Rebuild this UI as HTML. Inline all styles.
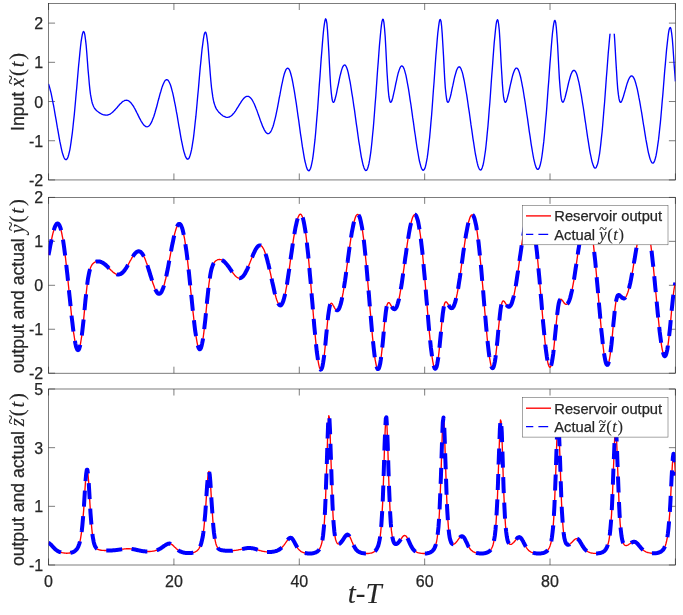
<!DOCTYPE html>
<html><head><meta charset="utf-8"><title>Reservoir observer</title>
<style>html,body{margin:0;padding:0;background:#fff}svg{display:block;will-change:transform}text{font-family:"Liberation Sans",Arial,Helvetica,sans-serif;fill:#262626;stroke:#262626;stroke-width:0.25px}.m,.r{stroke-width:0.1px}.m{font-family:"Liberation Serif","Times New Roman",serif;font-style:italic}.r{font-family:"Liberation Serif","Times New Roman",serif}</style></head><body>
<svg width="683" height="615" viewBox="0 0 683 615">
<rect width="683" height="615" fill="#fff"/>
<defs>
<clipPath id="c0"><rect x="48.55" y="3.50" width="626.85" height="176.45"/></clipPath>
<clipPath id="c1"><rect x="48.55" y="197.40" width="626.85" height="175.80"/></clipPath>
<clipPath id="c2"><rect x="48.55" y="389.00" width="626.85" height="176.00"/></clipPath>
</defs>
<g stroke="#262626" stroke-width="0.6" fill="none">
<rect x="48.55" y="3.50" width="626.85" height="176.45"/>
<path d="M48.55 179.95v-6.5M48.55 3.50v6.5M173.92 179.95v-6.5M173.92 3.50v6.5M299.29 179.95v-6.5M299.29 3.50v6.5M424.66 179.95v-6.5M424.66 3.50v6.5M550.03 179.95v-6.5M550.03 3.50v6.5M675.40 179.95v-6.5M675.40 3.50v6.5M48.55 179.95h6.5M675.40 179.95h-6.5M48.55 140.74h6.5M675.40 140.74h-6.5M48.55 101.53h6.5M675.40 101.53h-6.5M48.55 62.32h6.5M675.40 62.32h-6.5M48.55 23.11h6.5M675.40 23.11h-6.5"/>
</g>
<text x="43.2" y="185.9" font-size="16" text-anchor="end">-2</text>
<text x="43.2" y="146.7" font-size="16" text-anchor="end">-1</text>
<text x="43.2" y="107.5" font-size="16" text-anchor="end">0</text>
<text x="43.2" y="68.3" font-size="16" text-anchor="end">1</text>
<text x="43.2" y="29.1" font-size="16" text-anchor="end">2</text>
<g stroke="#262626" stroke-width="0.6" fill="none">
<rect x="48.55" y="197.40" width="626.85" height="175.80"/>
<path d="M48.55 373.20v-6.5M48.55 197.40v6.5M173.92 373.20v-6.5M173.92 197.40v6.5M299.29 373.20v-6.5M299.29 197.40v6.5M424.66 373.20v-6.5M424.66 197.40v6.5M550.03 373.20v-6.5M550.03 197.40v6.5M675.40 373.20v-6.5M675.40 197.40v6.5M48.55 373.20h6.5M675.40 373.20h-6.5M48.55 329.25h6.5M675.40 329.25h-6.5M48.55 285.30h6.5M675.40 285.30h-6.5M48.55 241.35h6.5M675.40 241.35h-6.5M48.55 197.40h6.5M675.40 197.40h-6.5"/>
</g>
<text x="43.2" y="379.2" font-size="16" text-anchor="end">-2</text>
<text x="43.2" y="335.2" font-size="16" text-anchor="end">-1</text>
<text x="43.2" y="291.3" font-size="16" text-anchor="end">0</text>
<text x="43.2" y="247.3" font-size="16" text-anchor="end">1</text>
<text x="43.2" y="203.4" font-size="16" text-anchor="end">2</text>
<g stroke="#262626" stroke-width="0.6" fill="none">
<rect x="48.55" y="389.00" width="626.85" height="176.00"/>
<path d="M48.55 565.00v-6.5M48.55 389.00v6.5M173.92 565.00v-6.5M173.92 389.00v6.5M299.29 565.00v-6.5M299.29 389.00v6.5M424.66 565.00v-6.5M424.66 389.00v6.5M550.03 565.00v-6.5M550.03 389.00v6.5M675.40 565.00v-6.5M675.40 389.00v6.5M48.55 565.00h6.5M675.40 565.00h-6.5M48.55 506.33h6.5M675.40 506.33h-6.5M48.55 447.67h6.5M675.40 447.67h-6.5M48.55 389.00h6.5M675.40 389.00h-6.5"/>
</g>
<text x="43.2" y="571.0" font-size="16" text-anchor="end">-1</text>
<text x="43.2" y="512.3" font-size="16" text-anchor="end">1</text>
<text x="43.2" y="453.7" font-size="16" text-anchor="end">3</text>
<text x="43.2" y="395.0" font-size="16" text-anchor="end">5</text>
<g clip-path="url(#c0)"><path d="M48.5 83.9 L49.2 85.9 L49.8 88.1 L50.4 90.5 L51.1 93.2 L51.7 96.1 L52.3 99.1 L52.9 102.3 L53.6 105.6 L54.2 109.0 L54.8 112.6 L55.4 116.2 L56.1 119.8 L56.7 123.5 L57.3 127.2 L58.0 130.8 L58.6 134.4 L59.2 137.9 L59.8 141.2 L60.5 144.4 L61.1 147.4 L61.7 150.1 L62.3 152.6 L63.0 154.7 L63.6 156.5 L64.2 158.0 L64.8 159.0 L65.5 159.6 L66.1 159.7 L66.7 159.3 L67.4 158.4 L68.0 157.0 L68.6 155.0 L69.2 152.6 L69.9 149.6 L70.5 146.0 L71.1 141.9 L71.7 137.4 L72.4 132.3 L73.0 126.8 L73.6 120.9 L74.3 114.6 L74.9 108.0 L75.5 101.2 L76.1 94.2 L76.8 87.0 L77.4 79.8 L78.0 72.7 L78.6 65.7 L79.3 59.0 L79.9 52.6 L80.5 46.8 L81.1 41.7 L81.8 37.4 L82.4 34.1 L83.0 32.1 L83.7 31.5 L84.3 32.5 L84.9 35.2 L85.5 39.7 L86.2 45.7 L86.8 53.0 L87.4 61.0 L88.0 69.1 L88.7 76.8 L89.3 83.7 L89.9 89.6 L90.5 94.4 L91.2 98.2 L91.8 101.2 L92.4 103.5 L93.1 105.3 L93.7 106.7 L94.3 107.8 L94.9 108.8 L95.6 109.5 L96.2 110.2 L96.8 110.8 L97.4 111.3 L98.1 111.8 L98.7 112.2 L99.3 112.7 L100.0 113.1 L100.6 113.4 L101.2 113.8 L101.8 114.1 L102.5 114.3 L103.1 114.6 L103.7 114.8 L104.3 114.9 L105.0 115.0 L105.6 115.1 L106.2 115.1 L106.8 115.1 L107.5 115.0 L108.1 114.8 L108.7 114.6 L109.4 114.4 L110.0 114.1 L110.6 113.7 L111.2 113.3 L111.9 112.8 L112.5 112.3 L113.1 111.7 L113.7 111.1 L114.4 110.5 L115.0 109.8 L115.6 109.1 L116.2 108.4 L116.9 107.7 L117.5 107.0 L118.1 106.2 L118.8 105.5 L119.4 104.8 L120.0 104.1 L120.6 103.5 L121.3 102.9 L121.9 102.3 L122.5 101.8 L123.1 101.3 L123.8 101.0 L124.4 100.7 L125.0 100.4 L125.7 100.3 L126.3 100.2 L126.9 100.3 L127.5 100.4 L128.2 100.7 L128.8 101.0 L129.4 101.4 L130.0 101.9 L130.7 102.6 L131.3 103.3 L131.9 104.1 L132.5 105.0 L133.2 105.9 L133.8 106.9 L134.4 108.0 L135.1 109.2 L135.7 110.4 L136.3 111.6 L136.9 112.8 L137.6 114.1 L138.2 115.4 L138.8 116.6 L139.4 117.9 L140.1 119.1 L140.7 120.3 L141.3 121.4 L142.0 122.4 L142.6 123.4 L143.2 124.2 L143.8 125.0 L144.5 125.6 L145.1 126.1 L145.7 126.5 L146.3 126.7 L147.0 126.8 L147.6 126.7 L148.2 126.4 L148.8 126.0 L149.5 125.4 L150.1 124.6 L150.7 123.6 L151.4 122.4 L152.0 121.1 L152.6 119.6 L153.2 118.0 L153.9 116.2 L154.5 114.2 L155.1 112.2 L155.7 110.0 L156.4 107.8 L157.0 105.5 L157.6 103.1 L158.2 100.7 L158.9 98.3 L159.5 96.0 L160.1 93.7 L160.8 91.5 L161.4 89.4 L162.0 87.4 L162.6 85.7 L163.3 84.0 L163.9 82.7 L164.5 81.5 L165.1 80.6 L165.8 80.0 L166.4 79.7 L167.0 79.7 L167.7 80.0 L168.3 80.6 L168.9 81.5 L169.5 82.7 L170.2 84.2 L170.8 86.0 L171.4 88.0 L172.0 90.3 L172.7 92.9 L173.3 95.6 L173.9 98.5 L174.5 101.6 L175.2 104.9 L175.8 108.2 L176.4 111.7 L177.1 115.2 L177.7 118.9 L178.3 122.5 L178.9 126.1 L179.6 129.7 L180.2 133.3 L180.8 136.8 L181.4 140.1 L182.1 143.3 L182.7 146.3 L183.3 149.1 L183.9 151.6 L184.6 153.8 L185.2 155.7 L185.8 157.2 L186.5 158.3 L187.1 159.0 L187.7 159.2 L188.3 158.9 L189.0 158.2 L189.6 156.9 L190.2 155.1 L190.8 152.8 L191.5 149.9 L192.1 146.6 L192.7 142.7 L193.4 138.3 L194.0 133.4 L194.6 128.0 L195.2 122.3 L195.9 116.2 L196.5 109.7 L197.1 103.0 L197.7 96.1 L198.4 89.0 L199.0 81.9 L199.6 74.8 L200.2 67.8 L200.9 61.1 L201.5 54.7 L202.1 48.8 L202.8 43.6 L203.4 39.1 L204.0 35.5 L204.6 33.1 L205.3 32.1 L205.9 32.6 L206.5 34.7 L207.1 38.6 L207.8 44.0 L208.4 50.8 L209.0 58.5 L209.7 66.5 L210.3 74.2 L210.9 81.3 L211.5 87.5 L212.2 92.7 L212.8 96.9 L213.4 100.2 L214.0 102.8 L214.7 104.9 L215.3 106.6 L215.9 107.9 L216.5 109.1 L217.2 110.0 L217.8 110.9 L218.4 111.7 L219.1 112.4 L219.7 113.0 L220.3 113.6 L220.9 114.2 L221.6 114.7 L222.2 115.2 L222.8 115.7 L223.4 116.1 L224.1 116.4 L224.7 116.7 L225.3 117.0 L225.9 117.2 L226.6 117.3 L227.2 117.3 L227.8 117.3 L228.5 117.2 L229.1 117.0 L229.7 116.8 L230.3 116.4 L231.0 116.0 L231.6 115.5 L232.2 115.0 L232.8 114.3 L233.5 113.6 L234.1 112.9 L234.7 112.0 L235.4 111.1 L236.0 110.2 L236.6 109.2 L237.2 108.2 L237.9 107.2 L238.5 106.2 L239.1 105.1 L239.7 104.1 L240.4 103.1 L241.0 102.1 L241.6 101.1 L242.2 100.3 L242.9 99.4 L243.5 98.7 L244.1 98.0 L244.8 97.4 L245.4 97.0 L246.0 96.6 L246.6 96.4 L247.3 96.3 L247.9 96.3 L248.5 96.4 L249.1 96.7 L249.8 97.2 L250.4 97.7 L251.0 98.4 L251.6 99.2 L252.3 100.2 L252.9 101.3 L253.5 102.5 L254.2 103.8 L254.8 105.2 L255.4 106.7 L256.0 108.3 L256.7 109.9 L257.3 111.6 L257.9 113.4 L258.5 115.1 L259.2 116.9 L259.8 118.7 L260.4 120.4 L261.1 122.2 L261.7 123.8 L262.3 125.4 L262.9 126.9 L263.6 128.3 L264.2 129.6 L264.8 130.7 L265.4 131.7 L266.1 132.5 L266.7 133.1 L267.3 133.5 L267.9 133.7 L268.6 133.6 L269.2 133.3 L269.8 132.8 L270.5 132.1 L271.1 131.0 L271.7 129.8 L272.3 128.2 L273.0 126.5 L273.6 124.5 L274.2 122.2 L274.8 119.8 L275.5 117.1 L276.1 114.3 L276.7 111.3 L277.4 108.1 L278.0 104.9 L278.6 101.6 L279.2 98.2 L279.9 94.9 L280.5 91.5 L281.1 88.3 L281.7 85.1 L282.4 82.1 L283.0 79.2 L283.6 76.7 L284.2 74.3 L284.9 72.3 L285.5 70.7 L286.1 69.4 L286.8 68.6 L287.4 68.2 L288.0 68.2 L288.6 68.7 L289.3 69.6 L289.9 71.0 L290.5 72.8 L291.1 75.0 L291.8 77.6 L292.4 80.5 L293.0 83.7 L293.6 87.2 L294.3 90.8 L294.9 94.7 L295.5 98.7 L296.2 102.9 L296.8 107.1 L297.4 111.5 L298.0 115.9 L298.7 120.4 L299.3 124.9 L299.9 129.4 L300.5 133.8 L301.2 138.2 L301.8 142.5 L302.4 146.7 L303.1 150.6 L303.7 154.4 L304.3 157.8 L304.9 161.0 L305.6 163.7 L306.2 166.1 L306.8 168.1 L307.4 169.5 L308.1 170.4 L308.7 170.8 L309.3 170.6 L309.9 169.7 L310.6 168.3 L311.2 166.1 L311.8 163.4 L312.5 159.9 L313.1 155.8 L313.7 151.1 L314.3 145.7 L315.0 139.7 L315.6 133.2 L316.2 126.1 L316.8 118.6 L317.5 110.6 L318.1 102.3 L318.7 93.7 L319.3 84.9 L320.0 76.1 L320.6 67.3 L321.2 58.6 L321.9 50.3 L322.5 42.4 L323.1 35.2 L323.7 29.0 L324.4 23.9 L325.0 20.4 L325.6 18.8 L326.2 19.7 L326.9 23.4 L327.5 30.1 L328.1 39.6 L328.8 51.2 L329.4 63.5 L330.0 75.2 L330.6 85.2 L331.3 92.8 L331.9 98.0 L332.5 101.0 L333.1 102.3 L333.8 102.3 L334.4 101.2 L335.0 99.3 L335.6 97.0 L336.3 94.3 L336.9 91.3 L337.5 88.2 L338.2 85.1 L338.8 82.0 L339.4 79.0 L340.0 76.1 L340.7 73.5 L341.3 71.1 L341.9 69.1 L342.5 67.4 L343.2 66.2 L343.8 65.3 L344.4 65.0 L345.1 65.1 L345.7 65.7 L346.3 66.8 L346.9 68.3 L347.6 70.3 L348.2 72.7 L348.8 75.5 L349.4 78.6 L350.1 81.9 L350.7 85.5 L351.3 89.3 L351.9 93.3 L352.6 97.4 L353.2 101.5 L353.8 105.8 L354.5 110.2 L355.1 114.6 L355.7 119.1 L356.3 123.6 L357.0 128.1 L357.6 132.6 L358.2 137.0 L358.8 141.3 L359.5 145.4 L360.1 149.4 L360.7 153.2 L361.3 156.8 L362.0 160.0 L362.6 162.8 L363.2 165.3 L363.9 167.4 L364.5 168.9 L365.1 170.0 L365.7 170.5 L366.4 170.4 L367.0 169.8 L367.6 168.5 L368.2 166.5 L368.9 163.9 L369.5 160.7 L370.1 156.8 L370.8 152.2 L371.4 147.0 L372.0 141.2 L372.6 134.8 L373.3 127.9 L373.9 120.5 L374.5 112.7 L375.1 104.5 L375.8 96.0 L376.4 87.3 L377.0 78.5 L377.6 69.7 L378.3 61.1 L378.9 52.7 L379.5 44.7 L380.2 37.3 L380.8 30.8 L381.4 25.4 L382.0 21.4 L382.7 19.3 L383.3 19.5 L383.9 22.3 L384.5 28.1 L385.2 36.7 L385.8 47.7 L386.4 59.8 L387.0 71.8 L387.7 82.3 L388.3 90.6 L388.9 96.5 L389.6 100.2 L390.2 102.0 L390.8 102.4 L391.4 101.6 L392.1 100.1 L392.7 98.0 L393.3 95.4 L393.9 92.6 L394.6 89.6 L395.2 86.6 L395.8 83.5 L396.5 80.6 L397.1 77.7 L397.7 75.1 L398.3 72.7 L399.0 70.6 L399.6 68.9 L400.2 67.5 L400.8 66.5 L401.5 66.0 L402.1 65.9 L402.7 66.4 L403.3 67.2 L404.0 68.6 L404.6 70.4 L405.2 72.6 L405.9 75.1 L406.5 78.1 L407.1 81.3 L407.7 84.7 L408.4 88.4 L409.0 92.2 L409.6 96.2 L410.2 100.3 L410.9 104.5 L411.5 108.8 L412.1 113.2 L412.7 117.7 L413.4 122.1 L414.0 126.6 L414.6 131.1 L415.3 135.5 L415.9 139.8 L416.5 144.0 L417.1 148.0 L417.8 151.9 L418.4 155.5 L419.0 158.8 L419.6 161.8 L420.3 164.4 L420.9 166.6 L421.5 168.3 L422.2 169.5 L422.8 170.2 L423.4 170.3 L424.0 169.8 L424.7 168.7 L425.3 167.0 L425.9 164.6 L426.5 161.6 L427.2 157.9 L427.8 153.6 L428.4 148.6 L429.0 143.0 L429.7 136.8 L430.3 130.1 L430.9 122.9 L431.6 115.2 L432.2 107.2 L432.8 98.8 L433.4 90.2 L434.1 81.5 L434.7 72.7 L435.3 64.0 L435.9 55.5 L436.6 47.4 L437.2 39.9 L437.8 33.1 L438.5 27.3 L439.1 22.8 L439.7 20.0 L440.3 19.4 L441.0 21.2 L441.6 26.0 L442.2 33.6 L442.8 43.8 L443.5 55.6 L444.1 67.6 L444.7 78.7 L445.3 87.8 L446.0 94.5 L446.6 99.0 L447.2 101.5 L447.9 102.4 L448.5 102.0 L449.1 100.8 L449.7 98.9 L450.4 96.6 L451.0 94.0 L451.6 91.1 L452.2 88.2 L452.9 85.2 L453.5 82.3 L454.1 79.4 L454.7 76.8 L455.4 74.4 L456.0 72.2 L456.6 70.3 L457.3 68.8 L457.9 67.7 L458.5 67.1 L459.1 66.8 L459.8 67.0 L460.4 67.7 L461.0 68.8 L461.6 70.4 L462.3 72.4 L462.9 74.7 L463.5 77.5 L464.2 80.5 L464.8 83.8 L465.4 87.3 L466.0 91.0 L466.7 94.9 L467.3 98.9 L467.9 103.0 L468.5 107.3 L469.2 111.6 L469.8 116.0 L470.4 120.4 L471.0 124.9 L471.7 129.3 L472.3 133.7 L472.9 138.1 L473.6 142.3 L474.2 146.4 L474.8 150.3 L475.4 154.0 L476.1 157.4 L476.7 160.5 L477.3 163.2 L477.9 165.5 L478.6 167.4 L479.2 168.8 L479.8 169.7 L480.4 170.0 L481.1 169.8 L481.7 168.9 L482.3 167.4 L483.0 165.3 L483.6 162.5 L484.2 159.1 L484.8 155.0 L485.5 150.3 L486.1 145.0 L486.7 139.1 L487.3 132.6 L488.0 125.6 L488.6 118.1 L489.2 110.2 L489.9 102.0 L490.5 93.5 L491.1 84.8 L491.7 76.1 L492.4 67.4 L493.0 58.9 L493.6 50.7 L494.2 42.9 L494.9 35.9 L495.5 29.7 L496.1 24.7 L496.7 21.2 L497.4 19.7 L498.0 20.5 L498.6 24.0 L499.3 30.4 L499.9 39.5 L500.5 50.7 L501.1 62.7 L501.8 74.2 L502.4 84.1 L503.0 91.8 L503.6 97.2 L504.3 100.5 L504.9 102.1 L505.5 102.3 L506.2 101.5 L506.8 100.0 L507.4 97.9 L508.0 95.5 L508.7 92.8 L509.3 90.0 L509.9 87.1 L510.5 84.3 L511.2 81.5 L511.8 78.9 L512.4 76.4 L513.0 74.2 L513.7 72.3 L514.3 70.7 L514.9 69.4 L515.6 68.6 L516.2 68.1 L516.8 68.1 L517.4 68.5 L518.1 69.4 L518.7 70.7 L519.3 72.4 L519.9 74.5 L520.6 77.0 L521.2 79.8 L521.8 82.9 L522.4 86.2 L523.1 89.7 L523.7 93.5 L524.3 97.3 L525.0 101.4 L525.6 105.5 L526.2 109.7 L526.8 114.0 L527.5 118.4 L528.1 122.8 L528.7 127.2 L529.3 131.6 L530.0 135.9 L530.6 140.2 L531.2 144.3 L531.9 148.3 L532.5 152.0 L533.1 155.5 L533.7 158.7 L534.4 161.6 L535.0 164.1 L535.6 166.1 L536.2 167.7 L536.9 168.8 L537.5 169.4 L538.1 169.4 L538.7 168.8 L539.4 167.6 L540.0 165.8 L540.6 163.3 L541.3 160.2 L541.9 156.5 L542.5 152.1 L543.1 147.1 L543.8 141.4 L544.4 135.2 L545.0 128.5 L545.6 121.3 L546.3 113.7 L546.9 105.7 L547.5 97.4 L548.1 88.9 L548.8 80.2 L549.4 71.6 L550.0 63.1 L550.7 54.8 L551.3 46.9 L551.9 39.5 L552.5 33.0 L553.2 27.4 L553.8 23.3 L554.4 20.8 L555.0 20.4 L555.7 22.5 L556.3 27.3 L556.9 35.0 L557.6 45.0 L558.2 56.5 L558.8 68.2 L559.4 78.9 L560.1 87.7 L560.7 94.3 L561.3 98.7 L561.9 101.2 L562.6 102.2 L563.2 102.1 L563.8 101.1 L564.4 99.5 L565.1 97.4 L565.7 95.0 L566.3 92.5 L567.0 89.8 L567.6 87.1 L568.2 84.5 L568.8 81.9 L569.5 79.5 L570.1 77.3 L570.7 75.3 L571.3 73.6 L572.0 72.2 L572.6 71.2 L573.2 70.6 L573.9 70.3 L574.5 70.4 L575.1 71.0 L575.7 71.9 L576.4 73.3 L577.0 75.0 L577.6 77.1 L578.2 79.6 L578.9 82.3 L579.5 85.3 L580.1 88.6 L580.7 92.0 L581.4 95.7 L582.0 99.5 L582.6 103.4 L583.3 107.5 L583.9 111.6 L584.5 115.9 L585.1 120.1 L585.8 124.5 L586.4 128.8 L587.0 133.0 L587.6 137.2 L588.3 141.3 L588.9 145.3 L589.5 149.1 L590.1 152.6 L590.8 155.9 L591.4 158.9 L592.0 161.6 L592.7 163.8 L593.3 165.6 L593.9 167.0 L594.5 167.8 L595.2 168.1 L595.8 167.9 L596.4 167.1 L597.0 165.6 L597.7 163.6 L598.3 160.9 L598.9 157.5 L599.6 153.6 L600.2 149.0 L600.8 143.8 L601.4 138.1 L602.1 131.8 L602.7 125.0 L603.3 117.8 L603.9 110.1 L604.6 102.2 L605.2 94.0 L605.8 85.6 L606.4 77.2 L607.1 68.7 L607.7 60.5 L608.3 52.5 L609.0 45.0 L609.6 38.1 L610.2 32.1 L610.8 27.1 L611.5 23.6 L612.1 21.8 L612.7 22.2 L613.3 25.0 L614.0 30.5 L614.6 38.5 L615.2 48.5 L615.8 59.6 L616.5 70.6 L617.1 80.5 L617.7 88.6 L618.4 94.7 L619.0 98.7 L619.6 101.1 L620.2 102.2 L620.9 102.2 L621.5 101.5 L622.1 100.2 L622.7 98.5 L623.4 96.5 L624.0 94.4 L624.6 92.2 L625.3 89.9 L625.9 87.7 L626.5 85.6 L627.1 83.6 L627.8 81.7 L628.4 80.1 L629.0 78.7 L629.6 77.6 L630.3 76.7 L630.9 76.1 L631.5 75.9 L632.1 76.0 L632.8 76.5 L633.4 77.3 L634.0 78.4 L634.7 79.9 L635.3 81.7 L635.9 83.8 L636.5 86.1 L637.2 88.7 L637.8 91.6 L638.4 94.6 L639.0 97.9 L639.7 101.3 L640.3 104.9 L640.9 108.5 L641.6 112.3 L642.2 116.2 L642.8 120.1 L643.4 124.0 L644.1 127.9 L644.7 131.8 L645.3 135.6 L645.9 139.4 L646.6 143.0 L647.2 146.4 L647.8 149.6 L648.4 152.6 L649.1 155.2 L649.7 157.6 L650.3 159.5 L651.0 161.1 L651.6 162.3 L652.2 162.9 L652.8 163.1 L653.5 162.8 L654.1 161.9 L654.7 160.5 L655.3 158.5 L656.0 155.9 L656.6 152.7 L657.2 149.0 L657.8 144.7 L658.5 139.9 L659.1 134.5 L659.7 128.7 L660.4 122.4 L661.0 115.8 L661.6 108.7 L662.2 101.4 L662.9 93.9 L663.5 86.3 L664.1 78.6 L664.7 70.9 L665.4 63.4 L666.0 56.2 L666.6 49.4 L667.3 43.1 L667.9 37.7 L668.5 33.1 L669.1 29.7 L669.8 27.8 L670.4 27.5 L671.0 29.1 L671.6 32.9 L672.3 38.6 L672.9 46.2 L673.5 55.0 L674.1 64.3 L674.8 73.3 L675.4 81.4" fill="none" stroke="#0000ff" stroke-width="1.35" stroke-linejoin="round"/></g>
<rect x="607.5" y="4.3" width="9.5" height="29.4" fill="#fff"/>
<g clip-path="url(#c1)"><path d="M48.5 255.1 L49.2 251.7 L49.8 248.3 L50.4 245.0 L51.1 241.8 L51.7 238.8 L52.3 236.0 L52.9 233.4 L53.6 231.0 L54.2 228.9 L54.8 227.1 L55.4 225.7 L56.1 224.6 L56.7 223.8 L57.3 223.5 L58.0 223.5 L58.6 224.0 L59.2 224.9 L59.8 226.2 L60.5 228.0 L61.1 230.3 L61.7 233.0 L62.3 236.1 L63.0 239.7 L63.6 243.7 L64.2 248.0 L64.8 252.8 L65.5 257.8 L66.1 263.2 L66.7 268.8 L67.4 274.7 L68.0 280.7 L68.6 286.8 L69.2 293.0 L69.9 299.2 L70.5 305.3 L71.1 311.3 L71.7 317.1 L72.4 322.7 L73.0 327.9 L73.6 332.7 L74.3 337.0 L74.9 340.9 L75.5 344.1 L76.1 346.7 L76.8 348.6 L77.4 349.8 L78.0 350.2 L78.6 349.8 L79.3 348.5 L79.9 346.5 L80.5 343.6 L81.1 340.0 L81.8 335.6 L82.4 330.6 L83.0 325.0 L83.7 318.9 L84.3 312.6 L84.9 306.1 L85.5 299.7 L86.2 293.6 L86.8 288.0 L87.4 283.0 L88.0 278.6 L88.7 275.0 L89.3 272.0 L89.9 269.7 L90.5 267.8 L91.2 266.3 L91.8 265.1 L92.4 264.2 L93.1 263.5 L93.7 263.0 L94.3 262.5 L94.9 262.2 L95.6 261.9 L96.2 261.7 L96.8 261.5 L97.4 261.5 L98.1 261.4 L98.7 261.4 L99.3 261.5 L100.0 261.6 L100.6 261.8 L101.2 262.0 L101.8 262.3 L102.5 262.6 L103.1 263.0 L103.7 263.4 L104.3 263.9 L105.0 264.4 L105.6 264.9 L106.2 265.4 L106.8 266.0 L107.5 266.6 L108.1 267.3 L108.7 267.9 L109.4 268.5 L110.0 269.2 L110.6 269.8 L111.2 270.4 L111.9 271.0 L112.5 271.6 L113.1 272.2 L113.7 272.7 L114.4 273.1 L115.0 273.5 L115.6 273.9 L116.2 274.1 L116.9 274.4 L117.5 274.5 L118.1 274.6 L118.8 274.5 L119.4 274.4 L120.0 274.2 L120.6 274.0 L121.3 273.6 L121.9 273.1 L122.5 272.6 L123.1 272.0 L123.8 271.3 L124.4 270.5 L125.0 269.7 L125.7 268.7 L126.3 267.8 L126.9 266.8 L127.5 265.7 L128.2 264.6 L128.8 263.5 L129.4 262.4 L130.0 261.2 L130.7 260.1 L131.3 259.0 L131.9 257.9 L132.5 256.9 L133.2 255.9 L133.8 255.0 L134.4 254.2 L135.1 253.4 L135.7 252.8 L136.3 252.2 L136.9 251.8 L137.6 251.5 L138.2 251.3 L138.8 251.3 L139.4 251.4 L140.1 251.6 L140.7 252.0 L141.3 252.6 L142.0 253.3 L142.6 254.2 L143.2 255.2 L143.8 256.4 L144.5 257.7 L145.1 259.1 L145.7 260.7 L146.3 262.4 L147.0 264.1 L147.6 266.0 L148.2 268.0 L148.8 270.0 L149.5 272.0 L150.1 274.1 L150.7 276.2 L151.4 278.2 L152.0 280.2 L152.6 282.2 L153.2 284.1 L153.9 285.8 L154.5 287.5 L155.1 289.0 L155.7 290.3 L156.4 291.4 L157.0 292.4 L157.6 293.1 L158.2 293.6 L158.9 293.8 L159.5 293.7 L160.1 293.4 L160.8 292.8 L161.4 292.0 L162.0 290.8 L162.6 289.4 L163.3 287.7 L163.9 285.7 L164.5 283.5 L165.1 281.0 L165.8 278.4 L166.4 275.5 L167.0 272.5 L167.7 269.3 L168.3 266.1 L168.9 262.7 L169.5 259.3 L170.2 255.9 L170.8 252.5 L171.4 249.2 L172.0 245.9 L172.7 242.8 L173.3 239.8 L173.9 236.9 L174.5 234.3 L175.2 231.9 L175.8 229.8 L176.4 227.9 L177.1 226.4 L177.7 225.2 L178.3 224.4 L178.9 223.9 L179.6 223.9 L180.2 224.2 L180.8 225.0 L181.4 226.2 L182.1 227.9 L182.7 230.0 L183.3 232.6 L183.9 235.6 L184.6 239.0 L185.2 242.9 L185.8 247.1 L186.5 251.7 L187.1 256.6 L187.7 261.9 L188.3 267.4 L189.0 273.1 L189.6 279.1 L190.2 285.1 L190.8 291.2 L191.5 297.3 L192.1 303.4 L192.7 309.4 L193.4 315.2 L194.0 320.7 L194.6 326.0 L195.2 330.9 L195.9 335.3 L196.5 339.2 L197.1 342.6 L197.7 345.3 L198.4 347.4 L199.0 348.7 L199.6 349.3 L200.2 349.1 L200.9 348.1 L201.5 346.2 L202.1 343.6 L202.8 340.2 L203.4 336.0 L204.0 331.2 L204.6 325.7 L205.3 319.8 L205.9 313.6 L206.5 307.1 L207.1 300.7 L207.8 294.5 L208.4 288.7 L209.0 283.5 L209.7 278.9 L210.3 274.9 L210.9 271.7 L211.5 269.0 L212.2 266.9 L212.8 265.2 L213.4 263.8 L214.0 262.8 L214.7 261.9 L215.3 261.2 L215.9 260.7 L216.5 260.3 L217.2 260.0 L217.8 259.7 L218.4 259.6 L219.1 259.5 L219.7 259.5 L220.3 259.6 L220.9 259.7 L221.6 259.9 L222.2 260.2 L222.8 260.6 L223.4 261.0 L224.1 261.5 L224.7 262.1 L225.3 262.7 L225.9 263.4 L226.6 264.1 L227.2 264.9 L227.8 265.7 L228.5 266.6 L229.1 267.4 L229.7 268.3 L230.3 269.2 L231.0 270.2 L231.6 271.1 L232.2 272.0 L232.8 272.8 L233.5 273.7 L234.1 274.4 L234.7 275.2 L235.4 275.9 L236.0 276.5 L236.6 277.0 L237.2 277.4 L237.9 277.8 L238.5 278.0 L239.1 278.1 L239.7 278.2 L240.4 278.1 L241.0 277.8 L241.6 277.5 L242.2 277.0 L242.9 276.4 L243.5 275.7 L244.1 274.9 L244.8 273.9 L245.4 272.9 L246.0 271.7 L246.6 270.5 L247.3 269.1 L247.9 267.7 L248.5 266.2 L249.1 264.7 L249.8 263.1 L250.4 261.5 L251.0 259.9 L251.6 258.4 L252.3 256.8 L252.9 255.3 L253.5 253.8 L254.2 252.4 L254.8 251.1 L255.4 249.9 L256.0 248.8 L256.7 247.8 L257.3 247.0 L257.9 246.3 L258.5 245.8 L259.2 245.5 L259.8 245.4 L260.4 245.4 L261.1 245.7 L261.7 246.2 L262.3 246.9 L262.9 247.8 L263.6 249.0 L264.2 250.3 L264.8 251.9 L265.4 253.7 L266.1 255.6 L266.7 257.7 L267.3 260.0 L267.9 262.5 L268.6 265.1 L269.2 267.8 L269.8 270.6 L270.5 273.5 L271.1 276.4 L271.7 279.3 L272.3 282.2 L273.0 285.1 L273.6 287.9 L274.2 290.6 L274.8 293.2 L275.5 295.6 L276.1 297.8 L276.7 299.7 L277.4 301.5 L278.0 302.9 L278.6 304.0 L279.2 304.8 L279.9 305.3 L280.5 305.4 L281.1 305.1 L281.7 304.4 L282.4 303.3 L283.0 301.8 L283.6 300.0 L284.2 297.7 L284.9 295.1 L285.5 292.1 L286.1 288.8 L286.8 285.3 L287.4 281.4 L288.0 277.4 L288.6 273.2 L289.3 268.8 L289.9 264.3 L290.5 259.8 L291.1 255.4 L291.8 250.9 L292.4 246.6 L293.0 242.3 L293.6 238.3 L294.3 234.4 L294.9 230.8 L295.5 227.5 L296.2 224.5 L296.8 221.8 L297.4 219.5 L298.0 217.5 L298.7 216.0 L299.3 214.9 L299.9 214.3 L300.5 214.2 L301.2 214.6 L301.8 215.5 L302.4 216.9 L303.1 218.9 L303.7 221.5 L304.3 224.6 L304.9 228.2 L305.6 232.4 L306.2 237.1 L306.8 242.2 L307.4 247.9 L308.1 253.9 L308.7 260.4 L309.3 267.2 L309.9 274.3 L310.6 281.6 L311.2 289.0 L311.8 296.6 L312.5 304.2 L313.1 311.8 L313.7 319.2 L314.3 326.4 L315.0 333.4 L315.6 339.9 L316.2 346.0 L316.8 351.6 L317.5 356.5 L318.1 360.8 L318.7 364.3 L319.3 366.9 L320.0 368.7 L320.6 369.6 L321.2 369.4 L321.9 368.3 L322.5 366.2 L323.1 363.0 L323.7 359.0 L324.4 354.0 L325.0 348.4 L325.6 342.1 L326.2 335.4 L326.9 328.7 L327.5 322.2 L328.1 316.4 L328.8 311.5 L329.4 307.7 L330.0 305.1 L330.6 303.7 L331.3 303.2 L331.9 303.5 L332.5 304.2 L333.1 305.3 L333.8 306.4 L334.4 307.6 L335.0 308.6 L335.6 309.4 L336.3 310.0 L336.9 310.3 L337.5 310.2 L338.2 309.8 L338.8 309.0 L339.4 307.8 L340.0 306.2 L340.7 304.2 L341.3 301.8 L341.9 299.0 L342.5 295.8 L343.2 292.4 L343.8 288.6 L344.4 284.6 L345.1 280.3 L345.7 275.9 L346.3 271.3 L346.9 266.6 L347.6 262.0 L348.2 257.3 L348.8 252.7 L349.4 248.2 L350.1 243.9 L350.7 239.7 L351.3 235.7 L351.9 232.0 L352.6 228.6 L353.2 225.5 L353.8 222.7 L354.5 220.2 L355.1 218.2 L355.7 216.6 L356.3 215.4 L357.0 214.6 L357.6 214.4 L358.2 214.6 L358.8 215.4 L359.5 216.7 L360.1 218.5 L360.7 220.9 L361.3 223.9 L362.0 227.3 L362.6 231.4 L363.2 235.9 L363.9 240.9 L364.5 246.4 L365.1 252.4 L365.7 258.7 L366.4 265.4 L367.0 272.3 L367.6 279.6 L368.2 287.0 L368.9 294.5 L369.5 302.1 L370.1 309.6 L370.8 317.1 L371.4 324.3 L372.0 331.3 L372.6 337.9 L373.3 344.1 L373.9 349.8 L374.5 354.9 L375.1 359.4 L375.8 363.0 L376.4 365.9 L377.0 367.9 L377.6 369.0 L378.3 369.1 L378.9 368.3 L379.5 366.4 L380.2 363.6 L380.8 359.7 L381.4 355.0 L382.0 349.6 L382.7 343.4 L383.3 336.9 L383.9 330.1 L384.5 323.6 L385.2 317.5 L385.8 312.3 L386.4 308.1 L387.0 305.1 L387.7 303.4 L388.3 302.6 L388.9 302.6 L389.6 303.1 L390.2 304.0 L390.8 305.1 L391.4 306.2 L392.1 307.3 L392.7 308.1 L393.3 308.8 L393.9 309.1 L394.6 309.2 L395.2 308.9 L395.8 308.2 L396.5 307.1 L397.1 305.7 L397.7 303.8 L398.3 301.6 L399.0 299.0 L399.6 296.0 L400.2 292.7 L400.8 289.1 L401.5 285.2 L402.1 281.1 L402.7 276.8 L403.3 272.3 L404.0 267.8 L404.6 263.2 L405.2 258.6 L405.9 254.0 L406.5 249.6 L407.1 245.2 L407.7 241.0 L408.4 237.0 L409.0 233.3 L409.6 229.8 L410.2 226.6 L410.9 223.7 L411.5 221.1 L412.1 219.0 L412.7 217.2 L413.4 215.9 L414.0 215.0 L414.6 214.6 L415.3 214.7 L415.9 215.3 L416.5 216.4 L417.1 218.1 L417.8 220.3 L418.4 223.0 L419.0 226.3 L419.6 230.2 L420.3 234.5 L420.9 239.4 L421.5 244.7 L422.2 250.5 L422.8 256.7 L423.4 263.2 L424.0 270.1 L424.7 277.2 L425.3 284.5 L425.9 292.0 L426.5 299.5 L427.2 307.1 L427.8 314.5 L428.4 321.8 L429.0 328.9 L429.7 335.6 L430.3 341.9 L430.9 347.8 L431.6 353.0 L432.2 357.7 L432.8 361.6 L433.4 364.7 L434.1 367.0 L434.7 368.4 L435.3 368.8 L435.9 368.3 L436.6 366.7 L437.2 364.2 L437.8 360.7 L438.5 356.3 L439.1 351.1 L439.7 345.1 L440.3 338.7 L441.0 332.0 L441.6 325.3 L442.2 319.0 L442.8 313.5 L443.5 308.9 L444.1 305.5 L444.7 303.3 L445.3 302.1 L446.0 301.8 L446.6 302.1 L447.2 302.9 L447.9 303.9 L448.5 304.9 L449.1 306.0 L449.7 306.9 L450.4 307.6 L451.0 308.0 L451.6 308.2 L452.2 308.0 L452.9 307.5 L453.5 306.6 L454.1 305.3 L454.7 303.6 L455.4 301.5 L456.0 299.1 L456.6 296.3 L457.3 293.2 L457.9 289.8 L458.5 286.1 L459.1 282.1 L459.8 277.9 L460.4 273.6 L461.0 269.2 L461.6 264.7 L462.3 260.1 L462.9 255.6 L463.5 251.1 L464.2 246.8 L464.8 242.6 L465.4 238.6 L466.0 234.7 L466.7 231.2 L467.3 227.9 L467.9 224.9 L468.5 222.2 L469.2 220.0 L469.8 218.0 L470.4 216.6 L471.0 215.5 L471.7 214.9 L472.3 214.8 L472.9 215.2 L473.6 216.2 L474.2 217.6 L474.8 219.6 L475.4 222.2 L476.1 225.2 L476.7 228.8 L477.3 233.0 L477.9 237.6 L478.6 242.8 L479.2 248.4 L479.8 254.4 L480.4 260.7 L481.1 267.5 L481.7 274.5 L482.3 281.7 L483.0 289.1 L483.6 296.6 L484.2 304.1 L484.8 311.5 L485.5 318.8 L486.1 326.0 L486.7 332.8 L487.3 339.2 L488.0 345.2 L488.6 350.7 L489.2 355.6 L489.9 359.7 L490.5 363.1 L491.1 365.7 L491.7 367.4 L492.4 368.2 L493.0 368.0 L493.6 366.9 L494.2 364.7 L494.9 361.6 L495.5 357.5 L496.1 352.6 L496.7 347.0 L497.4 340.7 L498.0 334.1 L498.6 327.4 L499.3 320.9 L499.9 315.0 L500.5 309.9 L501.1 306.0 L501.8 303.3 L502.4 301.6 L503.0 300.9 L503.6 300.9 L504.3 301.5 L504.9 302.3 L505.5 303.3 L506.2 304.3 L506.8 305.2 L507.4 306.0 L508.0 306.5 L508.7 306.8 L509.3 306.7 L509.9 306.4 L510.5 305.6 L511.2 304.5 L511.8 303.1 L512.4 301.2 L513.0 299.0 L513.7 296.5 L514.3 293.6 L514.9 290.4 L515.6 286.9 L516.2 283.1 L516.8 279.1 L517.4 275.0 L518.1 270.7 L518.7 266.3 L519.3 261.9 L519.9 257.4 L520.6 253.0 L521.2 248.7 L521.8 244.5 L522.4 240.4 L523.1 236.6 L523.7 233.0 L524.3 229.6 L525.0 226.5 L525.6 223.7 L526.2 221.3 L526.8 219.2 L527.5 217.6 L528.1 216.4 L528.7 215.6 L529.3 215.3 L530.0 215.4 L530.6 216.1 L531.2 217.3 L531.9 219.1 L532.5 221.4 L533.1 224.2 L533.7 227.5 L534.4 231.4 L535.0 235.8 L535.6 240.7 L536.2 246.0 L536.9 251.8 L537.5 258.0 L538.1 264.5 L538.7 271.3 L539.4 278.4 L540.0 285.6 L540.6 293.0 L541.3 300.4 L541.9 307.9 L542.5 315.2 L543.1 322.3 L543.8 329.2 L544.4 335.8 L545.0 341.9 L545.6 347.6 L546.3 352.7 L546.9 357.1 L547.5 360.8 L548.1 363.8 L548.8 365.9 L549.4 367.0 L550.0 367.3 L550.7 366.6 L551.3 364.9 L551.9 362.2 L552.5 358.6 L553.2 354.0 L553.8 348.7 L554.4 342.8 L555.0 336.3 L555.7 329.6 L556.3 323.0 L556.9 316.7 L557.6 311.2 L558.2 306.6 L558.8 303.2 L559.4 300.9 L560.1 299.6 L560.7 299.2 L561.3 299.3 L561.9 299.9 L562.6 300.7 L563.2 301.6 L563.8 302.5 L564.4 303.3 L565.1 303.9 L565.7 304.3 L566.3 304.4 L567.0 304.2 L567.6 303.6 L568.2 302.8 L568.8 301.6 L569.5 300.0 L570.1 298.1 L570.7 295.9 L571.3 293.3 L572.0 290.4 L572.6 287.2 L573.2 283.8 L573.9 280.1 L574.5 276.3 L575.1 272.2 L575.7 268.1 L576.4 263.9 L577.0 259.6 L577.6 255.4 L578.2 251.1 L578.9 247.0 L579.5 243.0 L580.1 239.2 L580.7 235.5 L581.4 232.1 L582.0 229.0 L582.6 226.1 L583.3 223.5 L583.9 221.3 L584.5 219.5 L585.1 218.1 L585.8 217.0 L586.4 216.5 L587.0 216.4 L587.6 216.8 L588.3 217.7 L588.9 219.1 L589.5 221.0 L590.1 223.5 L590.8 226.5 L591.4 230.0 L592.0 234.0 L592.7 238.5 L593.3 243.5 L593.9 248.9 L594.5 254.7 L595.2 260.9 L595.8 267.4 L596.4 274.2 L597.0 281.2 L597.7 288.4 L598.3 295.6 L598.9 302.9 L599.6 310.1 L600.2 317.2 L600.8 324.1 L601.4 330.7 L602.1 336.9 L602.7 342.7 L603.3 348.0 L603.9 352.7 L604.6 356.7 L605.2 360.0 L605.8 362.5 L606.4 364.2 L607.1 364.9 L607.7 364.8 L608.3 363.6 L609.0 361.5 L609.6 358.5 L610.2 354.6 L610.8 349.8 L611.5 344.2 L612.1 338.1 L612.7 331.6 L613.3 324.9 L614.0 318.3 L614.6 312.2 L615.2 306.9 L615.8 302.5 L616.5 299.2 L617.1 296.9 L617.7 295.6 L618.4 295.0 L619.0 295.0 L619.6 295.3 L620.2 295.9 L620.9 296.5 L621.5 297.2 L622.1 297.8 L622.7 298.2 L623.4 298.4 L624.0 298.4 L624.6 298.1 L625.3 297.6 L625.9 296.8 L626.5 295.7 L627.1 294.2 L627.8 292.5 L628.4 290.5 L629.0 288.3 L629.6 285.7 L630.3 282.9 L630.9 279.9 L631.5 276.7 L632.1 273.3 L632.8 269.8 L633.4 266.1 L634.0 262.4 L634.7 258.7 L635.3 254.9 L635.9 251.2 L636.5 247.6 L637.2 244.0 L637.8 240.6 L638.4 237.4 L639.0 234.3 L639.7 231.5 L640.3 228.9 L640.9 226.7 L641.6 224.7 L642.2 223.1 L642.8 221.9 L643.4 221.0 L644.1 220.6 L644.7 220.6 L645.3 221.1 L645.9 222.0 L646.6 223.4 L647.2 225.2 L647.8 227.6 L648.4 230.4 L649.1 233.7 L649.7 237.5 L650.3 241.7 L651.0 246.3 L651.6 251.3 L652.2 256.7 L652.8 262.4 L653.5 268.4 L654.1 274.6 L654.7 281.0 L655.3 287.6 L656.0 294.2 L656.6 300.8 L657.2 307.4 L657.8 313.8 L658.5 320.1 L659.1 326.0 L659.7 331.7 L660.4 336.9 L661.0 341.6 L661.6 345.8 L662.2 349.3 L662.9 352.2 L663.5 354.3 L664.1 355.7 L664.7 356.2 L665.4 355.8 L666.0 354.6 L666.6 352.6 L667.3 349.6 L667.9 345.8 L668.5 341.3 L669.1 336.0 L669.8 330.1 L670.4 323.9 L671.0 317.3 L671.6 310.8 L672.3 304.5 L672.9 298.6 L673.5 293.4 L674.1 288.9 L674.8 285.3 L675.4 282.6" fill="none" stroke="#ff0000" stroke-width="1.35" stroke-linejoin="round"/><path d="M48.5 255.1 L49.2 251.7 L49.8 248.3 L50.4 245.0 L51.1 241.8 L51.7 238.8 L52.3 236.0 L52.9 233.4 L53.6 231.0 L54.2 228.9 L54.8 227.1 L55.4 225.7 L56.1 224.6 L56.7 223.8 L57.3 223.5 L58.0 223.5 L58.6 224.0 L59.2 224.9 L59.8 226.2 L60.5 228.0 L61.1 230.3 L61.7 233.0 L62.3 236.1 L63.0 239.7 L63.6 243.7 L64.2 248.0 L64.8 252.8 L65.5 257.8 L66.1 263.2 L66.7 268.8 L67.4 274.7 L68.0 280.7 L68.6 286.8 L69.2 293.0 L69.9 299.2 L70.5 305.3 L71.1 311.3 L71.7 317.1 L72.4 322.7 L73.0 327.9 L73.6 332.7 L74.3 337.0 L74.9 340.9 L75.5 344.1 L76.1 346.7 L76.8 348.6 L77.4 349.8 L78.0 350.2 L78.6 349.8 L79.3 348.5 L79.9 346.5 L80.5 343.6 L81.1 340.0 L81.8 335.6 L82.4 330.6 L83.0 325.0 L83.7 318.9 L84.3 312.6 L84.9 306.1 L85.5 299.7 L86.2 293.6 L86.8 288.0 L87.4 283.0 L88.0 278.6 L88.7 275.0 L89.3 272.0 L89.9 269.7 L90.5 267.8 L91.2 266.3 L91.8 265.1 L92.4 264.2 L93.1 263.5 L93.7 263.0 L94.3 262.5 L94.9 262.2 L95.6 261.9 L96.2 261.7 L96.8 261.5 L97.4 261.5 L98.1 261.4 L98.7 261.4 L99.3 261.5 L100.0 261.6 L100.6 261.8 L101.2 262.0 L101.8 262.3 L102.5 262.6 L103.1 263.0 L103.7 263.4 L104.3 263.9 L105.0 264.4 L105.6 264.9 L106.2 265.4 L106.8 266.0 L107.5 266.6 L108.1 267.3 L108.7 267.9 L109.4 268.5 L110.0 269.2 L110.6 269.8 L111.2 270.4 L111.9 271.0 L112.5 271.6 L113.1 272.2 L113.7 272.7 L114.4 273.1 L115.0 273.5 L115.6 273.9 L116.2 274.1 L116.9 274.4 L117.5 274.5 L118.1 274.6 L118.8 274.5 L119.4 274.4 L120.0 274.2 L120.6 274.0 L121.3 273.6 L121.9 273.1 L122.5 272.6 L123.1 272.0 L123.8 271.3 L124.4 270.5 L125.0 269.7 L125.7 268.7 L126.3 267.8 L126.9 266.8 L127.5 265.7 L128.2 264.6 L128.8 263.5 L129.4 262.4 L130.0 261.2 L130.7 260.1 L131.3 259.0 L131.9 257.9 L132.5 256.9 L133.2 255.9 L133.8 255.0 L134.4 254.2 L135.1 253.4 L135.7 252.8 L136.3 252.2 L136.9 251.8 L137.6 251.5 L138.2 251.3 L138.8 251.3 L139.4 251.4 L140.1 251.6 L140.7 252.0 L141.3 252.6 L142.0 253.3 L142.6 254.2 L143.2 255.2 L143.8 256.4 L144.5 257.7 L145.1 259.1 L145.7 260.7 L146.3 262.4 L147.0 264.1 L147.6 266.0 L148.2 268.0 L148.8 270.0 L149.5 272.0 L150.1 274.1 L150.7 276.2 L151.4 278.2 L152.0 280.2 L152.6 282.2 L153.2 284.1 L153.9 285.8 L154.5 287.5 L155.1 289.0 L155.7 290.3 L156.4 291.4 L157.0 292.4 L157.6 293.1 L158.2 293.6 L158.9 293.8 L159.5 293.7 L160.1 293.4 L160.8 292.8 L161.4 292.0 L162.0 290.8 L162.6 289.4 L163.3 287.7 L163.9 285.7 L164.5 283.5 L165.1 281.0 L165.8 278.4 L166.4 275.5 L167.0 272.5 L167.7 269.3 L168.3 266.1 L168.9 262.7 L169.5 259.3 L170.2 255.9 L170.8 252.5 L171.4 249.2 L172.0 245.9 L172.7 242.8 L173.3 239.8 L173.9 236.9 L174.5 234.3 L175.2 231.9 L175.8 229.8 L176.4 227.9 L177.1 226.4 L177.7 225.2 L178.3 224.4 L178.9 223.9 L179.6 223.9 L180.2 224.2 L180.8 225.0 L181.4 226.2 L182.1 227.9 L182.7 230.0 L183.3 232.6 L183.9 235.6 L184.6 239.0 L185.2 242.9 L185.8 247.1 L186.5 251.7 L187.1 256.6 L187.7 261.9 L188.3 267.4 L189.0 273.1 L189.6 279.1 L190.2 285.1 L190.8 291.2 L191.5 297.3 L192.1 303.4 L192.7 309.4 L193.4 315.2 L194.0 320.7 L194.6 326.0 L195.2 330.9 L195.9 335.3 L196.5 339.2 L197.1 342.6 L197.7 345.3 L198.4 347.4 L199.0 348.7 L199.6 349.3 L200.2 349.1 L200.9 348.1 L201.5 346.2 L202.1 343.6 L202.8 340.2 L203.4 336.0 L204.0 331.2 L204.6 325.7 L205.3 319.8 L205.9 313.6 L206.5 307.1 L207.1 300.7 L207.8 294.5 L208.4 288.7 L209.0 283.5 L209.7 278.9 L210.3 274.9 L210.9 271.7 L211.5 269.0 L212.2 266.9 L212.8 265.2 L213.4 263.8 L214.0 262.8 L214.7 261.9 L215.3 261.2 L215.9 260.7 L216.5 260.3 L217.2 260.0 L217.8 259.7 L218.4 259.6 L219.1 259.5 L219.7 259.5 L220.3 259.6 L220.9 259.7 L221.6 259.9 L222.2 260.2 L222.8 260.6 L223.4 261.0 L224.1 261.5 L224.7 262.1 L225.3 262.7 L225.9 263.4 L226.6 264.1 L227.2 264.9 L227.8 265.7 L228.5 266.6 L229.1 267.4 L229.7 268.3 L230.3 269.2 L231.0 270.2 L231.6 271.1 L232.2 272.0 L232.8 272.8 L233.5 273.7 L234.1 274.4 L234.7 275.2 L235.4 275.9 L236.0 276.5 L236.6 277.0 L237.2 277.4 L237.9 277.8 L238.5 278.0 L239.1 278.1 L239.7 278.2 L240.4 278.1 L241.0 277.8 L241.6 277.5 L242.2 277.0 L242.9 276.4 L243.5 275.7 L244.1 274.9 L244.8 273.9 L245.4 272.9 L246.0 271.7 L246.6 270.5 L247.3 269.1 L247.9 267.7 L248.5 266.2 L249.1 264.7 L249.8 263.1 L250.4 261.5 L251.0 259.9 L251.6 258.4 L252.3 256.8 L252.9 255.3 L253.5 253.8 L254.2 252.4 L254.8 251.1 L255.4 249.9 L256.0 248.8 L256.7 247.8 L257.3 247.0 L257.9 246.3 L258.5 245.8 L259.2 245.5 L259.8 245.4 L260.4 245.4 L261.1 245.7 L261.7 246.2 L262.3 246.9 L262.9 247.8 L263.6 249.0 L264.2 250.3 L264.8 251.9 L265.4 253.7 L266.1 255.6 L266.7 257.7 L267.3 260.0 L267.9 262.5 L268.6 265.1 L269.2 267.8 L269.8 270.6 L270.5 273.5 L271.1 276.4 L271.7 279.3 L272.3 282.2 L273.0 285.1 L273.6 287.9 L274.2 290.6 L274.8 293.2 L275.5 295.6 L276.1 297.8 L276.7 299.7 L277.4 301.5 L278.0 302.9 L278.6 304.0 L279.2 304.8 L279.9 305.3 L280.5 305.4 L281.1 305.1 L281.7 304.4 L282.4 303.3 L283.0 301.8 L283.6 300.0 L284.2 297.7 L284.9 295.1 L285.5 292.1 L286.1 288.8 L286.8 285.3 L287.4 281.4 L288.0 277.4 L288.6 273.2 L289.3 268.8 L289.9 264.3 L290.5 259.8 L291.1 255.4 L291.8 250.9 L292.4 246.6 L293.0 242.3 L293.6 238.3 L294.3 234.4 L294.9 230.8 L295.5 227.5 L296.2 224.5 L296.8 221.8 L297.4 219.5 L298.0 217.5 L298.7 216.0 L299.3 214.9 L299.9 214.3 L300.5 214.2 L301.2 214.6 L301.8 215.5 L302.4 216.9 L303.1 218.9 L303.7 221.5 L304.3 224.6 L304.9 228.2 L305.6 232.4 L306.2 237.1 L306.8 242.2 L307.4 247.9 L308.1 253.9 L308.7 260.4 L309.3 267.2 L309.9 274.3 L310.6 281.6 L311.2 289.0 L311.8 296.6 L312.5 304.2 L313.1 311.8 L313.7 319.2 L314.3 326.4 L315.0 333.4 L315.6 339.9 L316.2 346.0 L316.8 351.6 L317.5 356.5 L318.1 360.8 L318.7 364.3 L319.3 366.9 L320.0 368.7 L320.6 369.6 L321.2 369.4 L321.9 368.3 L322.5 366.2 L323.1 363.0 L323.7 359.0 L324.4 354.0 L325.0 348.4 L325.6 342.1 L326.2 335.4 L326.9 328.7 L327.5 322.2 L328.1 316.4 L328.8 311.5 L329.4 307.7 L330.0 305.1 L330.6 303.7 L331.3 303.2 L331.9 303.5 L332.5 304.2 L333.1 305.3 L333.8 306.4 L334.4 307.6 L335.0 308.6 L335.6 309.4 L336.3 310.0 L336.9 310.3 L337.5 310.2 L338.2 309.8 L338.8 309.0 L339.4 307.8 L340.0 306.2 L340.7 304.2 L341.3 301.8 L341.9 299.0 L342.5 295.8 L343.2 292.4 L343.8 288.6 L344.4 284.6 L345.1 280.3 L345.7 275.9 L346.3 271.3 L346.9 266.6 L347.6 262.0 L348.2 257.3 L348.8 252.7 L349.4 248.2 L350.1 243.9 L350.7 239.7 L351.3 235.7 L351.9 232.0 L352.6 228.6 L353.2 225.5 L353.8 222.7 L354.5 220.2 L355.1 218.2 L355.7 216.6 L356.3 215.4 L357.0 214.6 L357.6 214.4 L358.2 214.6 L358.8 215.4 L359.5 216.7 L360.1 218.5 L360.7 220.9 L361.3 223.9 L362.0 227.3 L362.6 231.4 L363.2 235.9 L363.9 240.9 L364.5 246.4 L365.1 252.4 L365.7 258.7 L366.4 265.4 L367.0 272.3 L367.6 279.6 L368.2 287.0 L368.9 294.5 L369.5 302.1 L370.1 309.6 L370.8 317.1 L371.4 324.3 L372.0 331.3 L372.6 337.9 L373.3 344.1 L373.9 349.8 L374.5 354.9 L375.1 359.4 L375.8 363.0 L376.4 365.9 L377.0 367.9 L377.6 369.0 L378.3 369.1 L378.9 368.3 L379.5 366.4 L380.2 363.6 L380.8 359.7 L381.4 355.0 L382.0 349.6 L382.7 343.4 L383.3 336.9 L383.9 330.1 L384.5 323.6 L385.2 317.5 L385.8 312.3 L386.4 308.1 L387.0 305.1 L387.7 303.4 L388.3 302.6 L388.9 302.6 L389.6 303.1 L390.2 304.0 L390.8 305.1 L391.4 306.2 L392.1 307.3 L392.7 308.1 L393.3 308.8 L393.9 309.1 L394.6 309.2 L395.2 308.9 L395.8 308.2 L396.5 307.1 L397.1 305.7 L397.7 303.8 L398.3 301.6 L399.0 299.0 L399.6 296.0 L400.2 292.7 L400.8 289.1 L401.5 285.2 L402.1 281.1 L402.7 276.8 L403.3 272.3 L404.0 267.8 L404.6 263.2 L405.2 258.6 L405.9 254.0 L406.5 249.6 L407.1 245.2 L407.7 241.0 L408.4 237.0 L409.0 233.3 L409.6 229.8 L410.2 226.6 L410.9 223.7 L411.5 221.1 L412.1 219.0 L412.7 217.2 L413.4 215.9 L414.0 215.0 L414.6 214.6 L415.3 214.7 L415.9 215.3 L416.5 216.4 L417.1 218.1 L417.8 220.3 L418.4 223.0 L419.0 226.3 L419.6 230.2 L420.3 234.5 L420.9 239.4 L421.5 244.7 L422.2 250.5 L422.8 256.7 L423.4 263.2 L424.0 270.1 L424.7 277.2 L425.3 284.5 L425.9 292.0 L426.5 299.5 L427.2 307.1 L427.8 314.5 L428.4 321.8 L429.0 328.9 L429.7 335.6 L430.3 341.9 L430.9 347.8 L431.6 353.0 L432.2 357.7 L432.8 361.6 L433.4 364.7 L434.1 367.0 L434.7 368.4 L435.3 368.8 L435.9 368.3 L436.6 366.7 L437.2 364.2 L437.8 360.7 L438.5 356.3 L439.1 351.1 L439.7 345.1 L440.3 338.7 L441.0 332.0 L441.6 325.3 L442.2 319.0 L442.8 313.5 L443.5 308.9 L444.1 305.5 L444.7 303.3 L445.3 302.1 L446.0 301.8 L446.6 302.1 L447.2 302.9 L447.9 303.9 L448.5 304.9 L449.1 306.0 L449.7 306.9 L450.4 307.6 L451.0 308.0 L451.6 308.2 L452.2 308.0 L452.9 307.5 L453.5 306.6 L454.1 305.3 L454.7 303.6 L455.4 301.5 L456.0 299.1 L456.6 296.3 L457.3 293.2 L457.9 289.8 L458.5 286.1 L459.1 282.1 L459.8 277.9 L460.4 273.6 L461.0 269.2 L461.6 264.7 L462.3 260.1 L462.9 255.6 L463.5 251.1 L464.2 246.8 L464.8 242.6 L465.4 238.6 L466.0 234.7 L466.7 231.2 L467.3 227.9 L467.9 224.9 L468.5 222.2 L469.2 220.0 L469.8 218.0 L470.4 216.6 L471.0 215.5 L471.7 214.9 L472.3 214.8 L472.9 215.2 L473.6 216.2 L474.2 217.6 L474.8 219.6 L475.4 222.2 L476.1 225.2 L476.7 228.8 L477.3 233.0 L477.9 237.6 L478.6 242.8 L479.2 248.4 L479.8 254.4 L480.4 260.7 L481.1 267.5 L481.7 274.5 L482.3 281.7 L483.0 289.1 L483.6 296.6 L484.2 304.1 L484.8 311.5 L485.5 318.8 L486.1 326.0 L486.7 332.8 L487.3 339.2 L488.0 345.2 L488.6 350.7 L489.2 355.6 L489.9 359.7 L490.5 363.1 L491.1 365.7 L491.7 367.4 L492.4 368.2 L493.0 368.0 L493.6 366.9 L494.2 364.7 L494.9 361.6 L495.5 357.5 L496.1 352.6 L496.7 347.0 L497.4 340.7 L498.0 334.1 L498.6 327.4 L499.3 320.9 L499.9 315.0 L500.5 309.9 L501.1 306.0 L501.8 303.3 L502.4 301.6 L503.0 300.9 L503.6 300.9 L504.3 301.5 L504.9 302.3 L505.5 303.3 L506.2 304.3 L506.8 305.2 L507.4 306.0 L508.0 306.5 L508.7 306.8 L509.3 306.7 L509.9 306.4 L510.5 305.6 L511.2 304.5 L511.8 303.1 L512.4 301.2 L513.0 299.0 L513.7 296.5 L514.3 293.6 L514.9 290.4 L515.6 286.9 L516.2 283.1 L516.8 279.1 L517.4 275.0 L518.1 270.7 L518.7 266.3 L519.3 261.9 L519.9 257.4 L520.6 253.0 L521.2 248.7 L521.8 244.5 L522.4 240.4 L523.1 236.6 L523.7 233.0 L524.3 229.6 L525.0 226.5 L525.6 223.7 L526.2 221.3 L526.8 219.2 L527.5 217.6 L528.1 216.4 L528.7 215.6 L529.3 215.3 L530.0 215.4 L530.6 216.1 L531.2 217.3 L531.9 219.1 L532.5 221.4 L533.1 224.2 L533.7 227.5 L534.4 231.4 L535.0 235.8 L535.6 240.7 L536.2 246.0 L536.9 251.8 L537.5 258.0 L538.1 264.5 L538.7 271.3 L539.4 278.4 L540.0 285.6 L540.6 293.0 L541.3 300.4 L541.9 307.9 L542.5 315.2 L543.1 322.3 L543.8 329.2 L544.4 335.8 L545.0 341.9 L545.6 347.6 L546.3 352.7 L546.9 357.1 L547.5 360.8 L548.1 363.8 L548.8 365.9 L549.4 367.0 L550.0 367.3 L550.7 366.6 L551.3 364.9 L551.9 362.2 L552.5 358.6 L553.2 354.0 L553.8 348.7 L554.4 342.8 L555.0 336.3 L555.7 329.6 L556.3 323.0 L556.9 316.7 L557.6 311.2 L558.2 306.6 L558.8 303.2 L559.4 300.9 L560.1 299.6 L560.7 299.2 L561.3 299.3 L561.9 299.9 L562.6 300.7 L563.2 301.6 L563.8 302.5 L564.4 303.3 L565.1 303.9 L565.7 304.3 L566.3 304.4 L567.0 304.2 L567.6 303.6 L568.2 302.8 L568.8 301.6 L569.5 300.0 L570.1 298.1 L570.7 295.9 L571.3 293.3 L572.0 290.4 L572.6 287.2 L573.2 283.8 L573.9 280.1 L574.5 276.3 L575.1 272.2 L575.7 268.1 L576.4 263.9 L577.0 259.6 L577.6 255.4 L578.2 251.1 L578.9 247.0 L579.5 243.0 L580.1 239.2 L580.7 235.5 L581.4 232.1 L582.0 229.0 L582.6 226.1 L583.3 223.5 L583.9 221.3 L584.5 219.5 L585.1 218.1 L585.8 217.0 L586.4 216.5 L587.0 216.4 L587.6 216.8 L588.3 217.7 L588.9 219.1 L589.5 221.0 L590.1 223.5 L590.8 226.5 L591.4 230.0 L592.0 234.0 L592.7 238.5 L593.3 243.5 L593.9 248.9 L594.5 254.7 L595.2 260.9 L595.8 267.4 L596.4 274.2 L597.0 281.2 L597.7 288.4 L598.3 295.6 L598.9 302.9 L599.6 310.1 L600.2 317.2 L600.8 324.1 L601.4 330.7 L602.1 336.9 L602.7 342.7 L603.3 348.0 L603.9 352.7 L604.6 356.7 L605.2 360.0 L605.8 362.5 L606.4 364.2 L607.1 364.9 L607.7 364.8 L608.3 363.6 L609.0 361.5 L609.6 358.5 L610.2 354.6 L610.8 349.8 L611.5 344.2 L612.1 338.1 L612.7 331.6 L613.3 324.9 L614.0 318.3 L614.6 312.2 L615.2 306.9 L615.8 302.5 L616.5 299.2 L617.1 296.9 L617.7 295.6 L618.4 295.0 L619.0 295.0 L619.6 295.3 L620.2 295.9 L620.9 296.5 L621.5 297.2 L622.1 297.8 L622.7 298.2 L623.4 298.4 L624.0 298.4 L624.6 298.1 L625.3 297.6 L625.9 296.8 L626.5 295.7 L627.1 294.2 L627.8 292.5 L628.4 290.5 L629.0 288.3 L629.6 285.7 L630.3 282.9 L630.9 279.9 L631.5 276.7 L632.1 273.3 L632.8 269.8 L633.4 266.1 L634.0 262.4 L634.7 258.7 L635.3 254.9 L635.9 251.2 L636.5 247.6 L637.2 244.0 L637.8 240.6 L638.4 237.4 L639.0 234.3 L639.7 231.5 L640.3 228.9 L640.9 226.7 L641.6 224.7 L642.2 223.1 L642.8 221.9 L643.4 221.0 L644.1 220.6 L644.7 220.6 L645.3 221.1 L645.9 222.0 L646.6 223.4 L647.2 225.2 L647.8 227.6 L648.4 230.4 L649.1 233.7 L649.7 237.5 L650.3 241.7 L651.0 246.3 L651.6 251.3 L652.2 256.7 L652.8 262.4 L653.5 268.4 L654.1 274.6 L654.7 281.0 L655.3 287.6 L656.0 294.2 L656.6 300.8 L657.2 307.4 L657.8 313.8 L658.5 320.1 L659.1 326.0 L659.7 331.7 L660.4 336.9 L661.0 341.6 L661.6 345.8 L662.2 349.3 L662.9 352.2 L663.5 354.3 L664.1 355.7 L664.7 356.2 L665.4 355.8 L666.0 354.6 L666.6 352.6 L667.3 349.6 L667.9 345.8 L668.5 341.3 L669.1 336.0 L669.8 330.1 L670.4 323.9 L671.0 317.3 L671.6 310.8 L672.3 304.5 L672.9 298.6 L673.5 293.4 L674.1 288.9 L674.8 285.3 L675.4 282.6" fill="none" stroke="#0000ff" stroke-width="4" stroke-dasharray="16 9.5" stroke-linejoin="round"/></g>
<g clip-path="url(#c2)"><path d="M48.5 542.9 L49.2 543.2 L49.8 543.7 L50.4 544.2 L51.1 544.8 L51.7 545.5 L52.3 546.2 L52.9 546.8 L53.6 547.5 L54.2 548.2 L54.8 548.8 L55.4 549.4 L56.1 549.9 L56.7 550.3 L57.3 550.8 L58.0 551.1 L58.6 551.5 L59.2 551.8 L59.8 552.0 L60.5 552.2 L61.1 552.4 L61.7 552.6 L62.3 552.7 L63.0 552.8 L63.6 552.9 L64.2 553.0 L64.8 553.1 L65.5 553.1 L66.1 553.2 L66.7 553.2 L67.4 553.2 L68.0 553.1 L68.6 553.1 L69.2 553.0 L69.9 553.0 L70.5 552.8 L71.1 552.7 L71.7 552.5 L72.4 552.3 L73.0 552.1 L73.6 551.8 L74.3 551.5 L74.9 551.0 L75.5 550.5 L76.1 549.9 L76.8 549.2 L77.4 548.2 L78.0 547.1 L78.6 545.7 L79.3 543.9 L79.9 541.7 L80.5 538.8 L81.1 535.2 L81.8 530.7 L82.4 525.0 L83.0 518.1 L83.7 509.9 L84.3 500.5 L84.9 490.7 L85.5 481.3 L86.2 473.8 L86.8 469.7 L87.4 469.8 L88.0 474.3 L88.7 482.3 L89.3 492.4 L89.9 503.0 L90.5 513.0 L91.2 521.7 L91.8 528.8 L92.4 534.4 L93.1 538.7 L93.7 541.9 L94.3 544.2 L94.9 545.9 L95.6 547.1 L96.2 548.0 L96.8 548.7 L97.4 549.1 L98.1 549.5 L98.7 549.7 L99.3 549.9 L100.0 550.0 L100.6 550.2 L101.2 550.2 L101.8 550.3 L102.5 550.4 L103.1 550.4 L103.7 550.4 L104.3 550.5 L105.0 550.5 L105.6 550.5 L106.2 550.5 L106.8 550.5 L107.5 550.6 L108.1 550.6 L108.7 550.5 L109.4 550.5 L110.0 550.5 L110.6 550.5 L111.2 550.5 L111.9 550.4 L112.5 550.4 L113.1 550.3 L113.7 550.3 L114.4 550.2 L115.0 550.2 L115.6 550.1 L116.2 550.0 L116.9 549.9 L117.5 549.9 L118.1 549.8 L118.8 549.7 L119.4 549.6 L120.0 549.5 L120.6 549.4 L121.3 549.3 L121.9 549.2 L122.5 549.1 L123.1 549.1 L123.8 549.0 L124.4 548.9 L125.0 548.8 L125.7 548.8 L126.3 548.7 L126.9 548.7 L127.5 548.7 L128.2 548.7 L128.8 548.7 L129.4 548.7 L130.0 548.8 L130.7 548.8 L131.3 548.9 L131.9 549.0 L132.5 549.1 L133.2 549.2 L133.8 549.3 L134.4 549.4 L135.1 549.5 L135.7 549.7 L136.3 549.8 L136.9 550.0 L137.6 550.1 L138.2 550.3 L138.8 550.4 L139.4 550.5 L140.1 550.7 L140.7 550.8 L141.3 550.9 L142.0 551.0 L142.6 551.1 L143.2 551.2 L143.8 551.3 L144.5 551.3 L145.1 551.4 L145.7 551.4 L146.3 551.5 L147.0 551.5 L147.6 551.5 L148.2 551.5 L148.8 551.5 L149.5 551.5 L150.1 551.5 L150.7 551.4 L151.4 551.4 L152.0 551.3 L152.6 551.2 L153.2 551.1 L153.9 551.0 L154.5 550.8 L155.1 550.7 L155.7 550.5 L156.4 550.3 L157.0 550.1 L157.6 549.9 L158.2 549.6 L158.9 549.3 L159.5 549.0 L160.1 548.6 L160.8 548.3 L161.4 547.9 L162.0 547.5 L162.6 547.0 L163.3 546.6 L163.9 546.1 L164.5 545.7 L165.1 545.3 L165.8 544.8 L166.4 544.5 L167.0 544.1 L167.7 543.9 L168.3 543.7 L168.9 543.6 L169.5 543.6 L170.2 543.7 L170.8 543.9 L171.4 544.2 L172.0 544.6 L172.7 545.1 L173.3 545.7 L173.9 546.3 L174.5 546.9 L175.2 547.5 L175.8 548.1 L176.4 548.7 L177.1 549.3 L177.7 549.8 L178.3 550.3 L178.9 550.7 L179.6 551.1 L180.2 551.4 L180.8 551.7 L181.4 551.9 L182.1 552.2 L182.7 552.4 L183.3 552.5 L183.9 552.7 L184.6 552.8 L185.2 552.9 L185.8 553.0 L186.5 553.1 L187.1 553.1 L187.7 553.1 L188.3 553.1 L189.0 553.1 L189.6 553.1 L190.2 553.1 L190.8 553.0 L191.5 553.0 L192.1 552.9 L192.7 552.7 L193.4 552.6 L194.0 552.4 L194.6 552.2 L195.2 551.9 L195.9 551.5 L196.5 551.2 L197.1 550.7 L197.7 550.1 L198.4 549.4 L199.0 548.5 L199.6 547.4 L200.2 546.1 L200.9 544.5 L201.5 542.4 L202.1 539.8 L202.8 536.5 L203.4 532.3 L204.0 527.1 L204.6 520.7 L205.3 513.1 L205.9 504.4 L206.5 494.9 L207.1 485.6 L207.8 477.7 L208.4 472.6 L209.0 471.4 L209.7 474.5 L210.3 481.2 L210.9 490.4 L211.5 500.7 L212.2 510.6 L212.8 519.6 L213.4 527.0 L214.0 533.0 L214.7 537.6 L215.3 541.1 L215.9 543.7 L216.5 545.5 L217.2 546.9 L217.8 547.9 L218.4 548.6 L219.1 549.1 L219.7 549.5 L220.3 549.8 L220.9 550.0 L221.6 550.2 L222.2 550.3 L222.8 550.4 L223.4 550.5 L224.1 550.6 L224.7 550.6 L225.3 550.7 L225.9 550.7 L226.6 550.7 L227.2 550.7 L227.8 550.8 L228.5 550.8 L229.1 550.8 L229.7 550.8 L230.3 550.7 L231.0 550.7 L231.6 550.7 L232.2 550.7 L232.8 550.6 L233.5 550.6 L234.1 550.5 L234.7 550.4 L235.4 550.4 L236.0 550.3 L236.6 550.2 L237.2 550.1 L237.9 550.0 L238.5 549.9 L239.1 549.7 L239.7 549.6 L240.4 549.5 L241.0 549.3 L241.6 549.2 L242.2 549.1 L242.9 548.9 L243.5 548.8 L244.1 548.7 L244.8 548.5 L245.4 548.4 L246.0 548.3 L246.6 548.2 L247.3 548.1 L247.9 548.1 L248.5 548.0 L249.1 548.0 L249.8 548.0 L250.4 548.0 L251.0 548.1 L251.6 548.2 L252.3 548.3 L252.9 548.4 L253.5 548.5 L254.2 548.7 L254.8 548.9 L255.4 549.0 L256.0 549.2 L256.7 549.5 L257.3 549.7 L257.9 549.9 L258.5 550.1 L259.2 550.3 L259.8 550.5 L260.4 550.7 L261.1 550.8 L261.7 551.0 L262.3 551.1 L262.9 551.3 L263.6 551.4 L264.2 551.5 L264.8 551.6 L265.4 551.7 L266.1 551.8 L266.7 551.9 L267.3 551.9 L267.9 551.9 L268.6 552.0 L269.2 552.0 L269.8 552.0 L270.5 552.0 L271.1 551.9 L271.7 551.9 L272.3 551.8 L273.0 551.7 L273.6 551.6 L274.2 551.5 L274.8 551.4 L275.5 551.2 L276.1 551.0 L276.7 550.8 L277.4 550.5 L278.0 550.2 L278.6 549.9 L279.2 549.6 L279.9 549.1 L280.5 548.7 L281.1 548.2 L281.7 547.6 L282.4 547.0 L283.0 546.3 L283.6 545.6 L284.2 544.8 L284.9 543.9 L285.5 543.0 L286.1 542.1 L286.8 541.2 L287.4 540.3 L288.0 539.5 L288.6 538.8 L289.3 538.2 L289.9 537.9 L290.5 537.8 L291.1 537.9 L291.8 538.2 L292.4 538.9 L293.0 539.7 L293.6 540.7 L294.3 541.9 L294.9 543.1 L295.5 544.3 L296.2 545.5 L296.8 546.6 L297.4 547.6 L298.0 548.6 L298.7 549.4 L299.3 550.1 L299.9 550.6 L300.5 551.1 L301.2 551.6 L301.8 551.9 L302.4 552.2 L303.1 552.5 L303.7 552.7 L304.3 552.9 L304.9 553.0 L305.6 553.2 L306.2 553.3 L306.8 553.3 L307.4 553.4 L308.1 553.5 L308.7 553.5 L309.3 553.5 L309.9 553.5 L310.6 553.5 L311.2 553.5 L311.8 553.4 L312.5 553.3 L313.1 553.2 L313.7 553.1 L314.3 552.9 L315.0 552.7 L315.6 552.5 L316.2 552.2 L316.8 551.8 L317.5 551.4 L318.1 550.8 L318.7 550.2 L319.3 549.3 L320.0 548.2 L320.6 546.8 L321.2 545.0 L321.9 542.6 L322.5 539.4 L323.1 535.2 L323.7 529.4 L324.4 521.6 L325.0 511.2 L325.6 497.6 L326.2 480.6 L326.9 460.9 L327.5 440.9 L328.1 424.3 L328.8 415.7 L329.4 417.8 L330.0 430.1 L330.6 448.9 L331.3 469.6 L331.9 488.7 L332.5 504.5 L333.1 516.7 L333.8 525.7 L334.4 532.0 L335.0 536.5 L335.6 539.5 L336.3 541.5 L336.9 542.8 L337.5 543.6 L338.2 543.9 L338.8 544.0 L339.4 543.8 L340.0 543.4 L340.7 542.8 L341.3 542.1 L341.9 541.3 L342.5 540.4 L343.2 539.5 L343.8 538.5 L344.4 537.5 L345.1 536.6 L345.7 535.8 L346.3 535.1 L346.9 534.7 L347.6 534.6 L348.2 534.8 L348.8 535.4 L349.4 536.2 L350.1 537.3 L350.7 538.6 L351.3 540.0 L351.9 541.5 L352.6 543.0 L353.2 544.5 L353.8 545.8 L354.5 547.0 L355.1 548.1 L355.7 549.0 L356.3 549.8 L357.0 550.4 L357.6 551.0 L358.2 551.4 L358.8 551.8 L359.5 552.1 L360.1 552.4 L360.7 552.6 L361.3 552.8 L362.0 553.0 L362.6 553.1 L363.2 553.2 L363.9 553.3 L364.5 553.4 L365.1 553.4 L365.7 553.5 L366.4 553.5 L367.0 553.5 L367.6 553.5 L368.2 553.5 L368.9 553.4 L369.5 553.3 L370.1 553.2 L370.8 553.1 L371.4 553.0 L372.0 552.8 L372.6 552.5 L373.3 552.3 L373.9 551.9 L374.5 551.5 L375.1 551.0 L375.8 550.3 L376.4 549.5 L377.0 548.5 L377.6 547.2 L378.3 545.6 L378.9 543.3 L379.5 540.4 L380.2 536.5 L380.8 531.3 L381.4 524.1 L382.0 514.6 L382.7 502.1 L383.3 486.2 L383.9 467.4 L384.5 447.4 L385.2 429.6 L385.8 418.4 L386.4 417.3 L387.0 426.7 L387.7 443.8 L388.3 464.1 L388.9 483.7 L389.6 500.4 L390.2 513.6 L390.8 523.4 L391.4 530.4 L392.1 535.4 L392.7 538.8 L393.3 541.1 L393.9 542.6 L394.6 543.5 L395.2 544.0 L395.8 544.1 L396.5 544.0 L397.1 543.7 L397.7 543.3 L398.3 542.6 L399.0 541.9 L399.6 541.1 L400.2 540.2 L400.8 539.3 L401.5 538.3 L402.1 537.5 L402.7 536.7 L403.3 536.1 L404.0 535.6 L404.6 535.5 L405.2 535.6 L405.9 536.0 L406.5 536.6 L407.1 537.6 L407.7 538.7 L408.4 540.1 L409.0 541.5 L409.6 542.9 L410.2 544.3 L410.9 545.6 L411.5 546.8 L412.1 547.8 L412.7 548.8 L413.4 549.6 L414.0 550.3 L414.6 550.8 L415.3 551.3 L415.9 551.7 L416.5 552.0 L417.1 552.3 L417.8 552.6 L418.4 552.8 L419.0 552.9 L419.6 553.1 L420.3 553.2 L420.9 553.3 L421.5 553.4 L422.2 553.4 L422.8 553.5 L423.4 553.5 L424.0 553.5 L424.7 553.5 L425.3 553.5 L425.9 553.4 L426.5 553.4 L427.2 553.3 L427.8 553.2 L428.4 553.0 L429.0 552.8 L429.7 552.6 L430.3 552.4 L430.9 552.0 L431.6 551.6 L432.2 551.2 L432.8 550.6 L433.4 549.8 L434.1 548.9 L434.7 547.7 L435.3 546.2 L435.9 544.2 L436.6 541.5 L437.2 538.0 L437.8 533.3 L438.5 526.9 L439.1 518.3 L439.7 506.9 L440.3 492.3 L441.0 474.6 L441.6 455.0 L442.2 436.2 L442.8 422.4 L443.5 417.6 L444.1 423.4 L444.7 438.1 L445.3 457.5 L446.0 477.5 L446.6 495.2 L447.2 509.5 L447.9 520.4 L448.5 528.3 L449.1 533.9 L449.7 537.8 L450.4 540.4 L451.0 542.2 L451.6 543.3 L452.2 543.9 L452.9 544.2 L453.5 544.2 L454.1 544.0 L454.7 543.6 L455.4 543.1 L456.0 542.5 L456.6 541.7 L457.3 540.9 L457.9 540.0 L458.5 539.2 L459.1 538.3 L459.8 537.6 L460.4 536.9 L461.0 536.5 L461.6 536.2 L462.3 536.2 L462.9 536.5 L463.5 537.0 L464.2 537.8 L464.8 538.9 L465.4 540.0 L466.0 541.3 L466.7 542.7 L467.3 544.0 L467.9 545.3 L468.5 546.5 L469.2 547.6 L469.8 548.5 L470.4 549.3 L471.0 550.0 L471.7 550.6 L472.3 551.1 L472.9 551.6 L473.6 551.9 L474.2 552.2 L474.8 552.5 L475.4 552.7 L476.1 552.9 L476.7 553.0 L477.3 553.1 L477.9 553.2 L478.6 553.3 L479.2 553.4 L479.8 553.4 L480.4 553.5 L481.1 553.5 L481.7 553.5 L482.3 553.5 L483.0 553.4 L483.6 553.4 L484.2 553.3 L484.8 553.2 L485.5 553.1 L486.1 552.9 L486.7 552.7 L487.3 552.5 L488.0 552.2 L488.6 551.8 L489.2 551.3 L489.9 550.8 L490.5 550.1 L491.1 549.3 L491.7 548.2 L492.4 546.8 L493.0 545.0 L493.6 542.6 L494.2 539.5 L494.9 535.3 L495.5 529.7 L496.1 522.1 L496.7 512.0 L497.4 498.9 L498.0 482.7 L498.6 463.9 L499.3 444.7 L499.9 428.6 L500.5 419.9 L501.1 421.4 L501.8 432.5 L502.4 450.2 L503.0 470.0 L503.6 488.7 L504.3 504.3 L504.9 516.4 L505.5 525.4 L506.2 531.9 L506.8 536.4 L507.4 539.6 L508.0 541.7 L508.7 543.0 L509.3 543.9 L509.9 544.3 L510.5 544.4 L511.2 544.4 L511.8 544.1 L512.4 543.6 L513.0 543.1 L513.7 542.5 L514.3 541.7 L514.9 541.0 L515.6 540.2 L516.2 539.4 L516.8 538.6 L517.4 538.0 L518.1 537.5 L518.7 537.2 L519.3 537.1 L519.9 537.3 L520.6 537.7 L521.2 538.3 L521.8 539.2 L522.4 540.2 L523.1 541.3 L523.7 542.6 L524.3 543.8 L525.0 545.1 L525.6 546.2 L526.2 547.3 L526.8 548.2 L527.5 549.1 L528.1 549.8 L528.7 550.4 L529.3 550.9 L530.0 551.4 L530.6 551.8 L531.2 552.1 L531.9 552.3 L532.5 552.6 L533.1 552.8 L533.7 552.9 L534.4 553.1 L535.0 553.2 L535.6 553.3 L536.2 553.4 L536.9 553.4 L537.5 553.4 L538.1 553.5 L538.7 553.5 L539.4 553.5 L540.0 553.4 L540.6 553.4 L541.3 553.3 L541.9 553.2 L542.5 553.1 L543.1 553.0 L543.8 552.8 L544.4 552.6 L545.0 552.3 L545.6 552.0 L546.3 551.5 L546.9 551.1 L547.5 550.4 L548.1 549.7 L548.8 548.7 L549.4 547.5 L550.0 545.9 L550.7 543.8 L551.3 541.1 L551.9 537.5 L552.5 532.7 L553.2 526.3 L553.8 517.6 L554.4 506.3 L555.0 491.9 L555.7 474.7 L556.3 455.9 L556.9 438.4 L557.6 425.9 L558.2 422.2 L558.8 428.3 L559.4 442.6 L560.1 461.3 L560.7 480.3 L561.3 497.2 L561.9 510.9 L562.6 521.4 L563.2 529.0 L563.8 534.4 L564.4 538.2 L565.1 540.8 L565.7 542.6 L566.3 543.7 L567.0 544.4 L567.6 544.7 L568.2 544.8 L568.8 544.6 L569.5 544.4 L570.1 543.9 L570.7 543.4 L571.3 542.8 L572.0 542.2 L572.6 541.5 L573.2 540.9 L573.9 540.2 L574.5 539.6 L575.1 539.2 L575.7 538.8 L576.4 538.7 L577.0 538.7 L577.6 538.9 L578.2 539.4 L578.9 540.0 L579.5 540.8 L580.1 541.7 L580.7 542.8 L581.4 543.9 L582.0 545.0 L582.6 546.0 L583.3 547.0 L583.9 547.9 L584.5 548.8 L585.1 549.5 L585.8 550.1 L586.4 550.7 L587.0 551.1 L587.6 551.5 L588.3 551.9 L588.9 552.2 L589.5 552.4 L590.1 552.6 L590.8 552.8 L591.4 553.0 L592.0 553.1 L592.7 553.2 L593.3 553.3 L593.9 553.3 L594.5 553.4 L595.2 553.4 L595.8 553.4 L596.4 553.4 L597.0 553.4 L597.7 553.4 L598.3 553.3 L598.9 553.2 L599.6 553.1 L600.2 553.0 L600.8 552.8 L601.4 552.6 L602.1 552.4 L602.7 552.1 L603.3 551.8 L603.9 551.3 L604.6 550.8 L605.2 550.1 L605.8 549.3 L606.4 548.2 L607.1 546.9 L607.7 545.2 L608.3 543.0 L609.0 540.1 L609.6 536.2 L610.2 531.1 L610.8 524.2 L611.5 515.2 L612.1 503.6 L612.7 489.3 L613.3 472.6 L614.0 455.3 L614.6 440.1 L615.2 430.7 L615.8 429.7 L616.5 437.5 L617.1 452.0 L617.7 469.6 L618.4 487.1 L619.0 502.4 L619.6 514.7 L620.2 524.1 L620.9 530.9 L621.5 535.9 L622.1 539.3 L622.7 541.7 L623.4 543.4 L624.0 544.4 L624.6 545.1 L625.3 545.4 L625.9 545.6 L626.5 545.5 L627.1 545.3 L627.8 545.1 L628.4 544.7 L629.0 544.3 L629.6 543.9 L630.3 543.5 L630.9 543.0 L631.5 542.6 L632.1 542.3 L632.8 542.0 L633.4 541.8 L634.0 541.8 L634.7 541.8 L635.3 542.0 L635.9 542.4 L636.5 542.8 L637.2 543.4 L637.8 544.1 L638.4 544.8 L639.0 545.6 L639.7 546.3 L640.3 547.1 L640.9 547.9 L641.6 548.6 L642.2 549.2 L642.8 549.8 L643.4 550.3 L644.1 550.8 L644.7 551.2 L645.3 551.5 L645.9 551.8 L646.6 552.1 L647.2 552.3 L647.8 552.5 L648.4 552.7 L649.1 552.8 L649.7 552.9 L650.3 553.0 L651.0 553.1 L651.6 553.2 L652.2 553.2 L652.8 553.3 L653.5 553.3 L654.1 553.3 L654.7 553.3 L655.3 553.2 L656.0 553.2 L656.6 553.1 L657.2 553.0 L657.8 552.8 L658.5 552.7 L659.1 552.5 L659.7 552.2 L660.4 551.9 L661.0 551.6 L661.6 551.2 L662.2 550.6 L662.9 550.0 L663.5 549.2 L664.1 548.2 L664.7 547.0 L665.4 545.5 L666.0 543.5 L666.6 541.0 L667.3 537.7 L667.9 533.5 L668.5 528.1 L669.1 521.2 L669.8 512.6 L670.4 502.2 L671.0 490.2 L671.6 477.6 L672.3 466.0 L672.9 457.3 L673.5 453.7 L674.1 456.1 L674.8 463.9 L675.4 475.6" fill="none" stroke="#ff0000" stroke-width="1.35" stroke-linejoin="round"/><path d="M48.5 542.9 L49.2 543.2 L49.8 543.7 L50.4 544.2 L51.1 544.8 L51.7 545.5 L52.3 546.2 L52.9 546.8 L53.6 547.5 L54.2 548.2 L54.8 548.8 L55.4 549.4 L56.1 549.9 L56.7 550.3 L57.3 550.8 L58.0 551.1 L58.6 551.5 L59.2 551.8 L59.8 552.0 L60.5 552.2 L61.1 552.4 L61.7 552.6 L62.3 552.7 L63.0 552.8 L63.6 552.9 L64.2 553.0 L64.8 553.1 L65.5 553.1 L66.1 553.2 L66.7 553.2 L67.4 553.2 L68.0 553.1 L68.6 553.1 L69.2 553.0 L69.9 553.0 L70.5 552.8 L71.1 552.7 L71.7 552.5 L72.4 552.3 L73.0 552.1 L73.6 551.8 L74.3 551.5 L74.9 551.0 L75.5 550.5 L76.1 549.9 L76.8 549.2 L77.4 548.2 L78.0 547.1 L78.6 545.7 L79.3 543.9 L79.9 541.7 L80.5 538.8 L81.1 535.2 L81.8 530.7 L82.4 525.0 L83.0 518.1 L83.7 509.9 L84.3 500.5 L84.9 490.7 L85.5 481.3 L86.2 473.8 L86.8 469.7 L87.4 469.8 L88.0 474.3 L88.7 482.3 L89.3 492.4 L89.9 503.0 L90.5 513.0 L91.2 521.7 L91.8 528.8 L92.4 534.4 L93.1 538.7 L93.7 541.9 L94.3 544.2 L94.9 545.9 L95.6 547.1 L96.2 548.0 L96.8 548.7 L97.4 549.1 L98.1 549.5 L98.7 549.7 L99.3 549.9 L100.0 550.0 L100.6 550.2 L101.2 550.2 L101.8 550.3 L102.5 550.4 L103.1 550.4 L103.7 550.4 L104.3 550.5 L105.0 550.5 L105.6 550.5 L106.2 550.5 L106.8 550.5 L107.5 550.6 L108.1 550.6 L108.7 550.5 L109.4 550.5 L110.0 550.5 L110.6 550.5 L111.2 550.5 L111.9 550.4 L112.5 550.4 L113.1 550.3 L113.7 550.3 L114.4 550.2 L115.0 550.2 L115.6 550.1 L116.2 550.0 L116.9 549.9 L117.5 549.9 L118.1 549.8 L118.8 549.7 L119.4 549.6 L120.0 549.5 L120.6 549.4 L121.3 549.3 L121.9 549.2 L122.5 549.1 L123.1 549.1 L123.8 549.0 L124.4 548.9 L125.0 548.8 L125.7 548.8 L126.3 548.7 L126.9 548.7 L127.5 548.7 L128.2 548.7 L128.8 548.7 L129.4 548.7 L130.0 548.8 L130.7 548.8 L131.3 548.9 L131.9 549.0 L132.5 549.1 L133.2 549.2 L133.8 549.3 L134.4 549.4 L135.1 549.5 L135.7 549.7 L136.3 549.8 L136.9 550.0 L137.6 550.1 L138.2 550.3 L138.8 550.4 L139.4 550.5 L140.1 550.7 L140.7 550.8 L141.3 550.9 L142.0 551.0 L142.6 551.1 L143.2 551.2 L143.8 551.3 L144.5 551.3 L145.1 551.4 L145.7 551.4 L146.3 551.5 L147.0 551.5 L147.6 551.5 L148.2 551.5 L148.8 551.5 L149.5 551.5 L150.1 551.5 L150.7 551.4 L151.4 551.4 L152.0 551.3 L152.6 551.2 L153.2 551.1 L153.9 551.0 L154.5 550.8 L155.1 550.7 L155.7 550.5 L156.4 550.3 L157.0 550.1 L157.6 549.9 L158.2 549.6 L158.9 549.3 L159.5 549.0 L160.1 548.6 L160.8 548.3 L161.4 547.9 L162.0 547.5 L162.6 547.0 L163.3 546.6 L163.9 546.1 L164.5 545.7 L165.1 545.3 L165.8 544.8 L166.4 544.5 L167.0 544.1 L167.7 543.9 L168.3 543.7 L168.9 543.6 L169.5 543.6 L170.2 543.7 L170.8 543.9 L171.4 544.2 L172.0 544.6 L172.7 545.1 L173.3 545.7 L173.9 546.3 L174.5 546.9 L175.2 547.5 L175.8 548.1 L176.4 548.7 L177.1 549.3 L177.7 549.8 L178.3 550.3 L178.9 550.7 L179.6 551.1 L180.2 551.4 L180.8 551.7 L181.4 551.9 L182.1 552.2 L182.7 552.4 L183.3 552.5 L183.9 552.7 L184.6 552.8 L185.2 552.9 L185.8 553.0 L186.5 553.1 L187.1 553.1 L187.7 553.1 L188.3 553.1 L189.0 553.1 L189.6 553.1 L190.2 553.1 L190.8 553.0 L191.5 553.0 L192.1 552.9 L192.7 552.7 L193.4 552.6 L194.0 552.4 L194.6 552.2 L195.2 551.9 L195.9 551.5 L196.5 551.2 L197.1 550.7 L197.7 550.1 L198.4 549.4 L199.0 548.5 L199.6 547.4 L200.2 546.1 L200.9 544.5 L201.5 542.4 L202.1 539.8 L202.8 536.5 L203.4 532.3 L204.0 527.1 L204.6 520.7 L205.3 513.1 L205.9 504.4 L206.5 494.9 L207.1 485.6 L207.8 477.7 L208.4 472.6 L209.0 471.4 L209.7 474.5 L210.3 481.2 L210.9 490.4 L211.5 500.7 L212.2 510.6 L212.8 519.6 L213.4 527.0 L214.0 533.0 L214.7 537.6 L215.3 541.1 L215.9 543.7 L216.5 545.5 L217.2 546.9 L217.8 547.9 L218.4 548.6 L219.1 549.1 L219.7 549.5 L220.3 549.8 L220.9 550.0 L221.6 550.2 L222.2 550.3 L222.8 550.4 L223.4 550.5 L224.1 550.6 L224.7 550.6 L225.3 550.7 L225.9 550.7 L226.6 550.7 L227.2 550.7 L227.8 550.8 L228.5 550.8 L229.1 550.8 L229.7 550.8 L230.3 550.7 L231.0 550.7 L231.6 550.7 L232.2 550.7 L232.8 550.6 L233.5 550.6 L234.1 550.5 L234.7 550.4 L235.4 550.4 L236.0 550.3 L236.6 550.2 L237.2 550.1 L237.9 550.0 L238.5 549.9 L239.1 549.7 L239.7 549.6 L240.4 549.5 L241.0 549.3 L241.6 549.2 L242.2 549.1 L242.9 548.9 L243.5 548.8 L244.1 548.7 L244.8 548.5 L245.4 548.4 L246.0 548.3 L246.6 548.2 L247.3 548.1 L247.9 548.1 L248.5 548.0 L249.1 548.0 L249.8 548.0 L250.4 548.0 L251.0 548.1 L251.6 548.2 L252.3 548.3 L252.9 548.4 L253.5 548.5 L254.2 548.7 L254.8 548.9 L255.4 549.0 L256.0 549.2 L256.7 549.5 L257.3 549.7 L257.9 549.9 L258.5 550.1 L259.2 550.3 L259.8 550.5 L260.4 550.7 L261.1 550.8 L261.7 551.0 L262.3 551.1 L262.9 551.3 L263.6 551.4 L264.2 551.5 L264.8 551.6 L265.4 551.7 L266.1 551.8 L266.7 551.9 L267.3 551.9 L267.9 551.9 L268.6 552.0 L269.2 552.0 L269.8 552.0 L270.5 552.0 L271.1 551.9 L271.7 551.9 L272.3 551.8 L273.0 551.7 L273.6 551.6 L274.2 551.5 L274.8 551.4 L275.5 551.2 L276.1 551.0 L276.7 550.8 L277.4 550.5 L278.0 550.2 L278.6 549.9 L279.2 549.6 L279.9 549.1 L280.5 548.7 L281.1 548.2 L281.7 547.6 L282.4 547.0 L283.0 546.3 L283.6 545.6 L284.2 544.8 L284.9 543.9 L285.5 543.0 L286.1 542.1 L286.8 541.2 L287.4 540.3 L288.0 539.5 L288.6 538.8 L289.3 538.2 L289.9 537.9 L290.5 537.8 L291.1 537.9 L291.8 538.2 L292.4 538.9 L293.0 539.7 L293.6 540.7 L294.3 541.9 L294.9 543.1 L295.5 544.3 L296.2 545.5 L296.8 546.6 L297.4 547.6 L298.0 548.6 L298.7 549.4 L299.3 550.1 L299.9 550.6 L300.5 551.1 L301.2 551.6 L301.8 551.9 L302.4 552.2 L303.1 552.5 L303.7 552.7 L304.3 552.9 L304.9 553.0 L305.6 553.2 L306.2 553.3 L306.8 553.3 L307.4 553.4 L308.1 553.5 L308.7 553.5 L309.3 553.5 L309.9 553.5 L310.6 553.5 L311.2 553.5 L311.8 553.4 L312.5 553.3 L313.1 553.2 L313.7 553.1 L314.3 552.9 L315.0 552.7 L315.6 552.5 L316.2 552.2 L316.8 551.8 L317.5 551.4 L318.1 550.8 L318.7 550.2 L319.3 549.3 L320.0 548.2 L320.6 546.8 L321.2 545.0 L321.9 542.6 L322.5 539.4 L323.1 535.2 L323.7 529.4 L324.4 521.6 L325.0 511.2 L325.6 497.6 L326.2 480.6 L326.9 460.9 L327.5 440.9 L328.1 424.3 L328.8 415.7 L329.4 417.8 L330.0 430.1 L330.6 448.9 L331.3 469.6 L331.9 488.7 L332.5 504.5 L333.1 516.7 L333.8 525.7 L334.4 532.0 L335.0 536.5 L335.6 539.5 L336.3 541.5 L336.9 542.8 L337.5 543.6 L338.2 543.9 L338.8 544.0 L339.4 543.8 L340.0 543.4 L340.7 542.8 L341.3 542.1 L341.9 541.3 L342.5 540.4 L343.2 539.5 L343.8 538.5 L344.4 537.5 L345.1 536.6 L345.7 535.8 L346.3 535.1 L346.9 534.7 L347.6 534.6 L348.2 534.8 L348.8 535.4 L349.4 536.2 L350.1 537.3 L350.7 538.6 L351.3 540.0 L351.9 541.5 L352.6 543.0 L353.2 544.5 L353.8 545.8 L354.5 547.0 L355.1 548.1 L355.7 549.0 L356.3 549.8 L357.0 550.4 L357.6 551.0 L358.2 551.4 L358.8 551.8 L359.5 552.1 L360.1 552.4 L360.7 552.6 L361.3 552.8 L362.0 553.0 L362.6 553.1 L363.2 553.2 L363.9 553.3 L364.5 553.4 L365.1 553.4 L365.7 553.5 L366.4 553.5 L367.0 553.5 L367.6 553.5 L368.2 553.5 L368.9 553.4 L369.5 553.3 L370.1 553.2 L370.8 553.1 L371.4 553.0 L372.0 552.8 L372.6 552.5 L373.3 552.3 L373.9 551.9 L374.5 551.5 L375.1 551.0 L375.8 550.3 L376.4 549.5 L377.0 548.5 L377.6 547.2 L378.3 545.6 L378.9 543.3 L379.5 540.4 L380.2 536.5 L380.8 531.3 L381.4 524.1 L382.0 514.6 L382.7 502.1 L383.3 486.2 L383.9 467.4 L384.5 447.4 L385.2 429.6 L385.8 418.4 L386.4 417.3 L387.0 426.7 L387.7 443.8 L388.3 464.1 L388.9 483.7 L389.6 500.4 L390.2 513.6 L390.8 523.4 L391.4 530.4 L392.1 535.4 L392.7 538.8 L393.3 541.1 L393.9 542.6 L394.6 543.5 L395.2 544.0 L395.8 544.1 L396.5 544.0 L397.1 543.7 L397.7 543.3 L398.3 542.6 L399.0 541.9 L399.6 541.1 L400.2 540.2 L400.8 539.3 L401.5 538.3 L402.1 537.5 L402.7 536.7 L403.3 536.1 L404.0 535.6 L404.6 535.5 L405.2 535.6 L405.9 536.0 L406.5 536.6 L407.1 537.6 L407.7 538.7 L408.4 540.1 L409.0 541.5 L409.6 542.9 L410.2 544.3 L410.9 545.6 L411.5 546.8 L412.1 547.8 L412.7 548.8 L413.4 549.6 L414.0 550.3 L414.6 550.8 L415.3 551.3 L415.9 551.7 L416.5 552.0 L417.1 552.3 L417.8 552.6 L418.4 552.8 L419.0 552.9 L419.6 553.1 L420.3 553.2 L420.9 553.3 L421.5 553.4 L422.2 553.4 L422.8 553.5 L423.4 553.5 L424.0 553.5 L424.7 553.5 L425.3 553.5 L425.9 553.4 L426.5 553.4 L427.2 553.3 L427.8 553.2 L428.4 553.0 L429.0 552.8 L429.7 552.6 L430.3 552.4 L430.9 552.0 L431.6 551.6 L432.2 551.2 L432.8 550.6 L433.4 549.8 L434.1 548.9 L434.7 547.7 L435.3 546.2 L435.9 544.2 L436.6 541.5 L437.2 538.0 L437.8 533.3 L438.5 526.9 L439.1 518.3 L439.7 506.9 L440.3 492.3 L441.0 474.6 L441.6 455.0 L442.2 436.2 L442.8 422.4 L443.5 417.6 L444.1 423.4 L444.7 438.1 L445.3 457.5 L446.0 477.5 L446.6 495.2 L447.2 509.5 L447.9 520.4 L448.5 528.3 L449.1 533.9 L449.7 537.8 L450.4 540.4 L451.0 542.2 L451.6 543.3 L452.2 543.9 L452.9 544.2 L453.5 544.2 L454.1 544.0 L454.7 543.6 L455.4 543.1 L456.0 542.5 L456.6 541.7 L457.3 540.9 L457.9 540.0 L458.5 539.2 L459.1 538.3 L459.8 537.6 L460.4 536.9 L461.0 536.5 L461.6 536.2 L462.3 536.2 L462.9 536.5 L463.5 537.0 L464.2 537.8 L464.8 538.9 L465.4 540.0 L466.0 541.3 L466.7 542.7 L467.3 544.0 L467.9 545.3 L468.5 546.5 L469.2 547.6 L469.8 548.5 L470.4 549.3 L471.0 550.0 L471.7 550.6 L472.3 551.1 L472.9 551.6 L473.6 551.9 L474.2 552.2 L474.8 552.5 L475.4 552.7 L476.1 552.9 L476.7 553.0 L477.3 553.1 L477.9 553.2 L478.6 553.3 L479.2 553.4 L479.8 553.4 L480.4 553.5 L481.1 553.5 L481.7 553.5 L482.3 553.5 L483.0 553.4 L483.6 553.4 L484.2 553.3 L484.8 553.2 L485.5 553.1 L486.1 552.9 L486.7 552.7 L487.3 552.5 L488.0 552.2 L488.6 551.8 L489.2 551.3 L489.9 550.8 L490.5 550.1 L491.1 549.3 L491.7 548.2 L492.4 546.8 L493.0 545.0 L493.6 542.6 L494.2 539.5 L494.9 535.3 L495.5 529.7 L496.1 522.1 L496.7 512.0 L497.4 498.9 L498.0 482.7 L498.6 463.9 L499.3 444.7 L499.9 428.6 L500.5 419.9 L501.1 421.4 L501.8 432.5 L502.4 450.2 L503.0 470.0 L503.6 488.7 L504.3 504.3 L504.9 516.4 L505.5 525.4 L506.2 531.9 L506.8 536.4 L507.4 539.6 L508.0 541.7 L508.7 543.0 L509.3 543.9 L509.9 544.3 L510.5 544.4 L511.2 544.4 L511.8 544.1 L512.4 543.6 L513.0 543.1 L513.7 542.5 L514.3 541.7 L514.9 541.0 L515.6 540.2 L516.2 539.4 L516.8 538.6 L517.4 538.0 L518.1 537.5 L518.7 537.2 L519.3 537.1 L519.9 537.3 L520.6 537.7 L521.2 538.3 L521.8 539.2 L522.4 540.2 L523.1 541.3 L523.7 542.6 L524.3 543.8 L525.0 545.1 L525.6 546.2 L526.2 547.3 L526.8 548.2 L527.5 549.1 L528.1 549.8 L528.7 550.4 L529.3 550.9 L530.0 551.4 L530.6 551.8 L531.2 552.1 L531.9 552.3 L532.5 552.6 L533.1 552.8 L533.7 552.9 L534.4 553.1 L535.0 553.2 L535.6 553.3 L536.2 553.4 L536.9 553.4 L537.5 553.4 L538.1 553.5 L538.7 553.5 L539.4 553.5 L540.0 553.4 L540.6 553.4 L541.3 553.3 L541.9 553.2 L542.5 553.1 L543.1 553.0 L543.8 552.8 L544.4 552.6 L545.0 552.3 L545.6 552.0 L546.3 551.5 L546.9 551.1 L547.5 550.4 L548.1 549.7 L548.8 548.7 L549.4 547.5 L550.0 545.9 L550.7 543.8 L551.3 541.1 L551.9 537.5 L552.5 532.7 L553.2 526.3 L553.8 517.6 L554.4 506.3 L555.0 491.9 L555.7 474.7 L556.3 455.9 L556.9 438.4 L557.6 425.9 L558.2 422.2 L558.8 428.3 L559.4 442.6 L560.1 461.3 L560.7 480.3 L561.3 497.2 L561.9 510.9 L562.6 521.4 L563.2 529.0 L563.8 534.4 L564.4 538.2 L565.1 540.8 L565.7 542.6 L566.3 543.7 L567.0 544.4 L567.6 544.7 L568.2 544.8 L568.8 544.6 L569.5 544.4 L570.1 543.9 L570.7 543.4 L571.3 542.8 L572.0 542.2 L572.6 541.5 L573.2 540.9 L573.9 540.2 L574.5 539.6 L575.1 539.2 L575.7 538.8 L576.4 538.7 L577.0 538.7 L577.6 538.9 L578.2 539.4 L578.9 540.0 L579.5 540.8 L580.1 541.7 L580.7 542.8 L581.4 543.9 L582.0 545.0 L582.6 546.0 L583.3 547.0 L583.9 547.9 L584.5 548.8 L585.1 549.5 L585.8 550.1 L586.4 550.7 L587.0 551.1 L587.6 551.5 L588.3 551.9 L588.9 552.2 L589.5 552.4 L590.1 552.6 L590.8 552.8 L591.4 553.0 L592.0 553.1 L592.7 553.2 L593.3 553.3 L593.9 553.3 L594.5 553.4 L595.2 553.4 L595.8 553.4 L596.4 553.4 L597.0 553.4 L597.7 553.4 L598.3 553.3 L598.9 553.2 L599.6 553.1 L600.2 553.0 L600.8 552.8 L601.4 552.6 L602.1 552.4 L602.7 552.1 L603.3 551.8 L603.9 551.3 L604.6 550.8 L605.2 550.1 L605.8 549.3 L606.4 548.2 L607.1 546.9 L607.7 545.2 L608.3 543.0 L609.0 540.1 L609.6 536.2 L610.2 531.1 L610.8 524.2 L611.5 515.2 L612.1 503.6 L612.7 489.3 L613.3 472.6 L614.0 455.3 L614.6 440.1 L615.2 430.7 L615.8 429.7 L616.5 437.5 L617.1 452.0 L617.7 469.6 L618.4 487.1 L619.0 502.4 L619.6 514.7 L620.2 524.1 L620.9 530.9 L621.5 535.9 L622.1 539.3 L622.7 541.7 L623.4 543.4 L624.0 544.4 L624.6 545.1 L625.3 545.4 L625.9 545.6 L626.5 545.5 L627.1 545.3 L627.8 545.1 L628.4 544.7 L629.0 544.3 L629.6 543.9 L630.3 543.5 L630.9 543.0 L631.5 542.6 L632.1 542.3 L632.8 542.0 L633.4 541.8 L634.0 541.8 L634.7 541.8 L635.3 542.0 L635.9 542.4 L636.5 542.8 L637.2 543.4 L637.8 544.1 L638.4 544.8 L639.0 545.6 L639.7 546.3 L640.3 547.1 L640.9 547.9 L641.6 548.6 L642.2 549.2 L642.8 549.8 L643.4 550.3 L644.1 550.8 L644.7 551.2 L645.3 551.5 L645.9 551.8 L646.6 552.1 L647.2 552.3 L647.8 552.5 L648.4 552.7 L649.1 552.8 L649.7 552.9 L650.3 553.0 L651.0 553.1 L651.6 553.2 L652.2 553.2 L652.8 553.3 L653.5 553.3 L654.1 553.3 L654.7 553.3 L655.3 553.2 L656.0 553.2 L656.6 553.1 L657.2 553.0 L657.8 552.8 L658.5 552.7 L659.1 552.5 L659.7 552.2 L660.4 551.9 L661.0 551.6 L661.6 551.2 L662.2 550.6 L662.9 550.0 L663.5 549.2 L664.1 548.2 L664.7 547.0 L665.4 545.5 L666.0 543.5 L666.6 541.0 L667.3 537.7 L667.9 533.5 L668.5 528.1 L669.1 521.2 L669.8 512.6 L670.4 502.2 L671.0 490.2 L671.6 477.6 L672.3 466.0 L672.9 457.3 L673.5 453.7 L674.1 456.1 L674.8 463.9 L675.4 475.6" fill="none" stroke="#0000ff" stroke-width="4" stroke-dasharray="16 9.5" stroke-linejoin="round"/></g>
<text x="48.5" y="587.0" font-size="16" text-anchor="middle">0</text>
<text x="173.9" y="587.0" font-size="16" text-anchor="middle">20</text>
<text x="299.3" y="587.0" font-size="16" text-anchor="middle">40</text>
<text x="424.7" y="587.0" font-size="16" text-anchor="middle">60</text>
<text x="550.0" y="587.0" font-size="16" text-anchor="middle">80</text>
<text class="m" x="364.6" y="602.7" font-size="29" text-anchor="middle" fill="#000">t-T</text>
<g transform="translate(23.6 131.0) rotate(-90)"><text font-size="17.6" x="0" y="0" xml:space="preserve">Input </text><text x="44.0" y="0" font-size="20.5" letter-spacing="1.9" xml:space="preserve"><tspan class="m">x</tspan><tspan class="r">(</tspan><tspan class="m">t</tspan><tspan class="r">)</tspan></text><text class="r" x="46.2" y="-6.4" font-size="19" textLength="9.6" lengthAdjust="spacingAndGlyphs">~</text></g>
<g transform="translate(23.6 373.3) rotate(-90)"><text font-size="17.6" x="0" y="0" xml:space="preserve">output and actual </text><text x="139.9" y="0" font-size="20.5" letter-spacing="1.9" xml:space="preserve"><tspan class="m">y</tspan><tspan class="r">(</tspan><tspan class="m">t</tspan><tspan class="r">)</tspan></text><text class="r" x="142.1" y="-6.4" font-size="19" textLength="9.6" lengthAdjust="spacingAndGlyphs">~</text></g>
<g transform="translate(23.6 566.1) rotate(-90)"><text font-size="17.6" x="0" y="0" xml:space="preserve">output and actual </text><text x="139.9" y="0" font-size="20.5" letter-spacing="1.9" xml:space="preserve"><tspan class="m">z</tspan><tspan class="r">(</tspan><tspan class="m">t</tspan><tspan class="r">)</tspan></text><text class="r" x="141.5" y="-6.4" font-size="19" textLength="9.6" lengthAdjust="spacingAndGlyphs">~</text></g>
<g><rect x="522.5" y="205.3" width="145.5" height="39.5" fill="#fff" stroke="#4d4d4d" stroke-width="0.5"/><path d="M526 215.9h25" stroke="#ff0000" stroke-width="1.35"/><path d="M526 234.3h7.3M538.4 234.3h9.8" stroke="#0000ff" stroke-width="1.15"/><text x="554.3" y="221.4" font-size="14.7" fill="#000">Reservoir output</text><text x="554.3" y="239.5" font-size="14.7" fill="#000" xml:space="preserve">Actual <tspan class="m" font-size="16.5" letter-spacing="0.6">y</tspan><tspan class="r" font-size="16.5" letter-spacing="0.6">(</tspan><tspan class="m" font-size="16.5" letter-spacing="0.6">t</tspan><tspan class="r" font-size="16.5">)</tspan></text><text class="r" x="603.0" y="234.3" font-size="14" text-anchor="middle" fill="#000">~</text></g>
<g><rect x="522.5" y="397.6" width="145.5" height="39.5" fill="#fff" stroke="#4d4d4d" stroke-width="0.5"/><path d="M526 408.2h25" stroke="#ff0000" stroke-width="1.35"/><path d="M526 426.6h7.3M538.4 426.6h9.8" stroke="#0000ff" stroke-width="1.15"/><text x="554.3" y="413.7" font-size="14.7" fill="#000">Reservoir output</text><text x="554.3" y="431.8" font-size="14.7" fill="#000" xml:space="preserve">Actual <tspan class="m" font-size="16.5" letter-spacing="0.6">z</tspan><tspan class="r" font-size="16.5" letter-spacing="0.6">(</tspan><tspan class="m" font-size="16.5" letter-spacing="0.6">t</tspan><tspan class="r" font-size="16.5">)</tspan></text><text class="r" x="602.4" y="426.6" font-size="14" text-anchor="middle" fill="#000">~</text></g>
</svg></body></html>
